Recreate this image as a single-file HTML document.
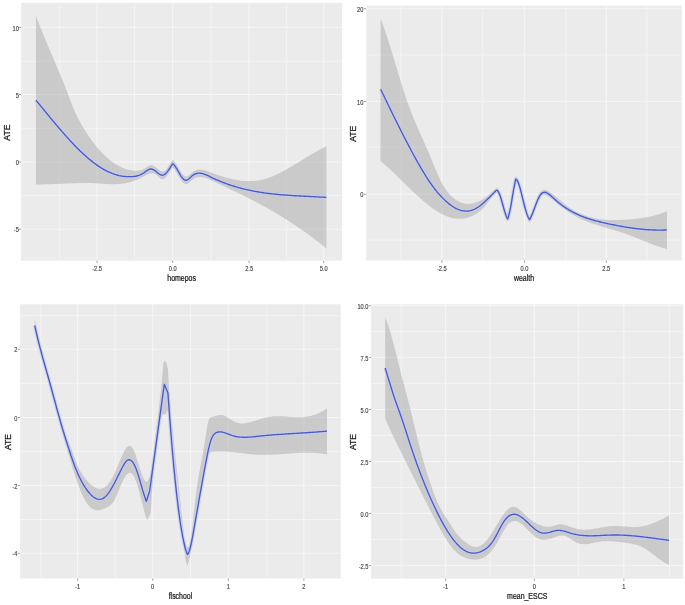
<!DOCTYPE html>
<html><head><meta charset="utf-8"><title>ATE plots</title>
<style>
html,body{margin:0;padding:0;background:#fff;}
body{width:685px;height:605px;overflow:hidden;}
svg{display:block;filter:blur(0.35px);}
text{font-family:"Liberation Sans",sans-serif;}
</style></head><body>
<svg width="685" height="605" viewBox="0 0 685 605">
<rect x="0" y="0" width="685" height="605" fill="#FFFFFF"/>
<rect x="21.10" y="2.80" width="321.00" height="257.90" fill="#EBEBEB"/>
<line x1="59.70" y1="2.80" x2="59.70" y2="260.70" stroke="#F4F4F4" stroke-width="1.0"/>
<line x1="134.60" y1="2.80" x2="134.60" y2="260.70" stroke="#F4F4F4" stroke-width="1.0"/>
<line x1="211.00" y1="2.80" x2="211.00" y2="260.70" stroke="#F4F4F4" stroke-width="1.0"/>
<line x1="286.70" y1="2.80" x2="286.70" y2="260.70" stroke="#F4F4F4" stroke-width="1.0"/>
<line x1="21.10" y1="61.30" x2="342.10" y2="61.30" stroke="#F4F4F4" stroke-width="1.0"/>
<line x1="21.10" y1="128.70" x2="342.10" y2="128.70" stroke="#F4F4F4" stroke-width="1.0"/>
<line x1="21.10" y1="195.50" x2="342.10" y2="195.50" stroke="#F4F4F4" stroke-width="1.0"/>
<line x1="97.10" y1="2.80" x2="97.10" y2="260.70" stroke="#F7F7F7" stroke-width="1.0"/>
<line x1="172.70" y1="2.80" x2="172.70" y2="260.70" stroke="#F7F7F7" stroke-width="1.0"/>
<line x1="249.10" y1="2.80" x2="249.10" y2="260.70" stroke="#F7F7F7" stroke-width="1.0"/>
<line x1="323.70" y1="2.80" x2="323.70" y2="260.70" stroke="#F7F7F7" stroke-width="1.0"/>
<line x1="21.10" y1="27.40" x2="342.10" y2="27.40" stroke="#F7F7F7" stroke-width="1.0"/>
<line x1="21.10" y1="94.50" x2="342.10" y2="94.50" stroke="#F7F7F7" stroke-width="1.0"/>
<line x1="21.10" y1="162.00" x2="342.10" y2="162.00" stroke="#F7F7F7" stroke-width="1.0"/>
<line x1="21.10" y1="229.30" x2="342.10" y2="229.30" stroke="#F7F7F7" stroke-width="1.0"/>
<path d="M35.90,15.90 L36.35,17.07 L36.79,18.24 L37.24,19.40 L37.69,20.55 L38.14,21.70 L38.58,22.84 L39.03,23.98 L39.48,25.11 L39.92,26.23 L40.37,27.35 L40.82,28.46 L41.27,29.57 L41.71,30.68 L42.16,31.77 L42.61,32.87 L43.06,33.96 L43.50,35.05 L43.95,36.13 L44.40,37.21 L44.84,38.28 L45.29,39.36 L45.74,40.43 L46.19,41.49 L46.63,42.56 L47.08,43.62 L47.53,44.68 L47.98,45.74 L48.42,46.79 L48.87,47.85 L49.32,48.90 L49.76,49.95 L50.21,51.00 L50.66,52.05 L51.11,53.10 L51.55,54.15 L52.00,55.19 L52.45,56.25 L52.91,57.32 L53.36,58.38 L53.81,59.44 L54.26,60.50 L54.72,61.56 L55.17,62.63 L55.62,63.69 L56.08,64.76 L56.53,65.83 L56.98,66.90 L57.43,67.98 L57.89,69.05 L58.34,70.13 L58.79,71.21 L59.24,72.29 L59.70,73.38 L60.15,74.47 L60.60,75.57 L61.06,76.66 L61.51,77.77 L61.96,78.87 L62.41,79.98 L62.87,81.10 L63.32,82.22 L63.77,83.34 L64.22,84.47 L64.68,85.61 L65.13,86.75 L65.58,87.89 L66.04,89.05 L66.49,90.21 L66.94,91.37 L67.39,92.54 L67.85,93.72 L68.30,94.91 L68.74,96.07 L69.18,97.24 L69.62,98.41 L70.07,99.58 L70.51,100.74 L70.95,101.90 L71.39,103.06 L71.83,104.20 L72.27,105.33 L72.72,106.44 L73.16,107.53 L73.60,108.61 L74.08,109.75 L74.56,110.87 L75.05,111.97 L75.53,113.04 L76.01,114.08 L76.49,115.11 L76.97,116.11 L77.45,117.09 L77.94,118.05 L78.42,118.99 L78.90,119.91 L79.49,121.02 L80.08,122.10 L80.67,123.15 L81.26,124.19 L81.84,125.20 L82.43,126.20 L83.02,127.18 L83.61,128.15 L84.20,129.11 L84.86,130.17 L85.53,131.21 L86.19,132.24 L86.85,133.26 L87.51,134.26 L88.17,135.25 L88.84,136.23 L89.50,137.19 L90.16,138.13 L90.82,139.06 L91.48,139.98 L92.14,140.88 L92.80,141.77 L93.46,142.65 L94.12,143.51 L94.78,144.35 L95.44,145.19 L96.10,146.01 L96.83,146.90 L97.57,147.78 L98.30,148.64 L99.03,149.48 L99.77,150.31 L100.50,151.12 L101.23,151.91 L101.97,152.69 L102.70,153.45 L103.51,154.27 L104.32,155.07 L105.13,155.85 L105.94,156.61 L106.76,157.35 L107.57,158.06 L108.38,158.76 L109.19,159.44 L110.00,160.10 L110.95,160.84 L111.89,161.56 L112.84,162.25 L113.78,162.91 L114.73,163.54 L115.67,164.15 L116.62,164.73 L117.56,165.28 L118.51,165.80 L119.45,166.30 L120.40,166.78 L121.47,167.28 L122.53,167.74 L123.60,168.18 L124.67,168.58 L125.73,168.94 L126.80,169.27 L127.87,169.57 L128.93,169.83 L130.00,170.06 L131.17,170.26 L132.33,170.43 L133.50,170.56 L134.67,170.64 L135.83,170.69 L137.00,170.69 L138.16,170.65 L139.32,170.54 L140.48,170.33 L141.64,170.01 L142.80,169.53 L143.78,169.01 L144.76,168.40 L145.73,167.76 L146.71,167.11 L147.69,166.50 L148.67,165.97 L149.64,165.56 L150.62,165.32 L151.60,165.27 L152.66,165.49 L153.72,165.94 L154.78,166.57 L155.84,167.33 L156.90,168.17 L157.77,168.88 L158.63,169.57 L159.50,170.20 L160.37,170.75 L161.23,171.17 L162.10,171.44 L163.07,171.50 L164.03,171.28 L165.00,170.72 L165.59,170.20 L166.18,169.56 L166.76,168.81 L167.35,167.98 L167.94,167.08 L168.52,166.15 L169.11,165.19 L169.70,164.23 L170.45,163.02 L171.20,161.89 L171.95,160.87 L172.70,160.00 L173.37,160.48 L174.03,161.12 L174.70,161.90 L175.37,162.79 L176.03,163.78 L176.70,164.85 L177.29,165.83 L177.88,166.85 L178.46,167.87 L179.05,168.90 L179.64,169.91 L180.22,170.89 L180.81,171.83 L181.40,172.71 L182.27,173.87 L183.13,174.85 L184.00,175.63 L184.87,176.18 L185.73,176.48 L186.60,176.50 L187.48,176.23 L188.37,175.72 L189.25,175.04 L190.13,174.26 L191.02,173.44 L191.90,172.66 L192.81,171.94 L193.73,171.33 L194.64,170.82 L195.56,170.41 L196.47,170.08 L197.39,169.84 L198.30,169.67 L199.37,169.57 L200.43,169.56 L201.50,169.63 L202.57,169.77 L203.63,169.98 L204.70,170.24 L205.64,170.51 L206.59,170.82 L207.53,171.14 L208.47,171.49 L209.41,171.85 L210.36,172.22 L211.30,172.59 L212.43,173.02 L213.55,173.45 L214.68,173.87 L215.81,174.29 L216.93,174.69 L218.06,175.09 L219.19,175.48 L220.31,175.85 L221.44,176.22 L222.57,176.58 L223.69,176.93 L224.82,177.26 L225.95,177.59 L227.07,177.90 L228.20,178.20 L229.36,178.50 L230.52,178.78 L231.68,179.05 L232.84,179.31 L234.01,179.55 L235.17,179.77 L236.33,179.98 L237.49,180.18 L238.65,180.35 L239.81,180.51 L240.97,180.65 L242.13,180.78 L243.29,180.88 L244.46,180.97 L245.62,181.04 L246.78,181.09 L247.94,181.12 L249.10,181.13 L250.27,181.11 L251.44,181.08 L252.61,181.02 L253.78,180.95 L254.95,180.84 L256.12,180.72 L257.28,180.57 L258.45,180.40 L259.62,180.20 L260.79,179.98 L261.96,179.74 L263.13,179.46 L264.30,179.17 L265.37,178.87 L266.43,178.55 L267.50,178.22 L268.57,177.86 L269.63,177.48 L270.70,177.08 L271.77,176.67 L272.83,176.24 L273.90,175.79 L274.97,175.32 L276.03,174.84 L277.10,174.34 L278.17,173.83 L279.23,173.31 L280.30,172.77 L281.37,172.22 L282.43,171.66 L283.50,171.09 L284.57,170.51 L285.63,169.91 L286.70,169.31 L287.67,168.75 L288.65,168.19 L289.62,167.62 L290.59,167.04 L291.57,166.46 L292.54,165.88 L293.52,165.29 L294.49,164.70 L295.46,164.10 L296.44,163.50 L297.41,162.90 L298.38,162.30 L299.36,161.69 L300.33,161.09 L301.31,160.48 L302.28,159.88 L303.25,159.27 L304.23,158.67 L305.20,158.07 L306.21,157.45 L307.22,156.83 L308.23,156.22 L309.24,155.61 L310.25,155.00 L311.26,154.40 L312.27,153.81 L313.28,153.22 L314.29,152.64 L315.30,152.07 L316.30,151.50 L317.31,150.94 L318.32,150.39 L319.33,149.86 L320.34,149.33 L321.35,148.81 L322.36,148.30 L323.37,147.81 L324.38,147.32 L325.39,146.86 L326.40,146.40 L326.40,248.50 L325.48,247.74 L324.56,246.99 L323.63,246.24 L322.71,245.49 L321.79,244.75 L320.87,244.02 L319.95,243.29 L319.03,242.56 L318.10,241.84 L317.18,241.12 L316.26,240.41 L315.34,239.70 L314.42,239.00 L313.50,238.30 L312.57,237.61 L311.65,236.91 L310.73,236.23 L309.81,235.55 L308.89,234.87 L307.97,234.20 L307.04,233.53 L306.12,232.86 L305.20,232.20 L304.23,231.50 L303.25,230.82 L302.28,230.13 L301.31,229.45 L300.33,228.77 L299.36,228.10 L298.38,227.43 L297.41,226.77 L296.44,226.11 L295.46,225.46 L294.49,224.80 L293.52,224.16 L292.54,223.51 L291.57,222.88 L290.59,222.24 L289.62,221.61 L288.65,220.98 L287.67,220.36 L286.70,219.74 L285.65,219.08 L284.59,218.42 L283.54,217.76 L282.49,217.11 L281.44,216.46 L280.38,215.82 L279.33,215.18 L278.28,214.54 L277.23,213.91 L276.17,213.28 L275.12,212.66 L274.07,212.04 L273.02,211.43 L271.96,210.81 L270.91,210.21 L269.86,209.60 L268.81,209.00 L267.75,208.40 L266.70,207.81 L265.66,207.23 L264.63,206.66 L263.59,206.08 L262.56,205.51 L261.52,204.95 L260.49,204.38 L259.45,203.82 L258.42,203.26 L257.38,202.71 L256.35,202.16 L255.31,201.61 L254.28,201.06 L253.24,200.52 L252.21,199.98 L251.17,199.45 L250.14,198.91 L249.10,198.38 L248.06,197.85 L247.01,197.32 L245.97,196.79 L244.92,196.26 L243.88,195.74 L242.83,195.22 L241.78,194.70 L240.74,194.18 L239.69,193.67 L238.65,193.16 L237.60,192.65 L236.56,192.14 L235.51,191.63 L234.47,191.13 L233.42,190.63 L232.38,190.13 L231.33,189.63 L230.29,189.14 L229.24,188.65 L228.20,188.15 L227.14,187.66 L226.09,187.17 L225.03,186.67 L223.97,186.18 L222.92,185.70 L221.86,185.21 L220.81,184.72 L219.75,184.24 L218.69,183.76 L217.64,183.28 L216.58,182.80 L215.53,182.32 L214.47,181.84 L213.41,181.36 L212.36,180.89 L211.30,180.42 L210.36,179.99 L209.41,179.58 L208.47,179.18 L207.53,178.79 L206.59,178.43 L205.64,178.10 L204.70,177.80 L203.63,177.51 L202.57,177.28 L201.50,177.12 L200.43,177.04 L199.37,177.04 L198.30,177.13 L197.39,177.29 L196.47,177.53 L195.56,177.86 L194.64,178.27 L193.73,178.78 L192.81,179.38 L191.90,180.10 L191.02,180.88 L190.13,181.69 L189.25,182.48 L188.37,183.17 L187.48,183.70 L186.60,183.99 L185.73,184.01 L184.87,183.76 L184.00,183.26 L183.13,182.52 L182.27,181.58 L181.40,180.44 L180.81,179.56 L180.22,178.63 L179.64,177.64 L179.05,176.61 L178.46,175.57 L177.88,174.52 L177.29,173.49 L176.70,172.48 L176.03,171.40 L175.37,170.39 L174.70,169.48 L174.03,168.70 L173.37,168.06 L172.70,167.60 L171.95,168.56 L171.20,169.61 L170.45,170.72 L169.70,171.86 L169.11,172.76 L168.52,173.66 L167.94,174.53 L167.35,175.37 L166.76,176.17 L166.18,176.91 L165.59,177.57 L165.00,178.15 L164.03,178.89 L163.07,179.31 L162.10,179.35 L161.23,179.04 L160.37,178.47 L159.50,177.72 L158.63,176.87 L157.77,176.02 L156.90,175.24 L155.84,174.48 L154.78,173.94 L153.72,173.60 L152.66,173.44 L151.60,173.44 L150.62,173.57 L149.64,173.80 L148.67,174.11 L147.69,174.50 L146.71,174.95 L145.73,175.44 L144.76,175.96 L143.78,176.49 L142.80,177.01 L141.83,177.51 L140.87,177.99 L139.90,178.46 L138.93,178.90 L137.97,179.32 L137.00,179.73 L136.00,180.13 L135.00,180.51 L134.00,180.87 L133.00,181.22 L132.00,181.54 L130.83,181.89 L129.67,182.22 L128.50,182.52 L127.33,182.80 L126.17,183.05 L125.00,183.27 L123.83,183.48 L122.67,183.65 L121.50,183.81 L120.33,183.93 L119.17,184.04 L118.00,184.12 L116.83,184.18 L115.67,184.22 L114.50,184.24 L113.33,184.24 L112.17,184.22 L111.00,184.19 L109.83,184.15 L108.67,184.09 L107.50,184.03 L106.33,183.96 L105.17,183.88 L104.00,183.80 L102.83,183.71 L101.67,183.63 L100.50,183.54 L99.33,183.46 L98.17,183.39 L97.00,183.32 L95.81,183.25 L94.61,183.20 L93.42,183.15 L92.23,183.11 L91.03,183.07 L89.84,183.05 L88.65,183.03 L87.45,183.01 L86.26,183.01 L85.06,183.00 L83.87,183.01 L82.68,183.02 L81.48,183.03 L80.29,183.05 L79.10,183.07 L77.90,183.10 L76.71,183.13 L75.52,183.16 L74.32,183.20 L73.13,183.24 L71.94,183.28 L70.74,183.33 L69.55,183.38 L68.35,183.43 L67.16,183.48 L65.97,183.53 L64.77,183.58 L63.58,183.64 L62.39,183.69 L61.19,183.74 L60.00,183.80 L58.85,183.85 L57.70,183.90 L56.56,183.95 L55.41,184.00 L54.26,184.05 L53.11,184.09 L51.97,184.13 L50.82,184.18 L49.67,184.22 L48.52,184.25 L47.38,184.28 L46.23,184.31 L45.08,184.34 L43.93,184.36 L42.79,184.38 L41.64,184.40 L40.49,184.41 L39.34,184.41 L38.20,184.41 L37.05,184.41 L35.90,184.40 Z" fill="#999999" fill-opacity="0.4"/>
<path d="M36.00,100.30 L36.72,101.17 L37.44,102.04 L38.16,102.92 L38.88,103.79 L39.60,104.67 L40.32,105.55 L41.04,106.42 L41.76,107.30 L42.48,108.18 L43.20,109.05 L43.93,109.95 L44.67,110.84 L45.40,111.73 L46.13,112.62 L46.87,113.51 L47.60,114.40 L48.33,115.29 L49.07,116.18 L49.80,117.07 L50.53,117.95 L51.27,118.84 L52.00,119.72 L52.73,120.60 L53.47,121.48 L54.20,122.36 L54.93,123.23 L55.67,124.10 L56.40,124.97 L57.14,125.85 L57.89,126.73 L58.63,127.60 L59.38,128.48 L60.12,129.34 L60.87,130.21 L61.61,131.07 L62.36,131.93 L63.10,132.78 L63.83,133.61 L64.57,134.45 L65.30,135.28 L66.03,136.10 L66.77,136.92 L67.50,137.73 L68.23,138.54 L68.97,139.35 L69.70,140.15 L70.53,141.05 L71.35,141.93 L72.17,142.81 L73.00,143.69 L73.83,144.56 L74.65,145.41 L75.47,146.27 L76.30,147.11 L77.12,147.95 L77.95,148.77 L78.78,149.59 L79.60,150.40 L80.42,151.20 L81.25,152.00 L82.08,152.78 L82.90,153.55 L83.73,154.32 L84.55,155.07 L85.38,155.82 L86.20,156.55 L87.03,157.28 L87.85,157.99 L88.67,158.69 L89.50,159.39 L90.33,160.07 L91.15,160.74 L91.97,161.39 L92.80,162.04 L93.62,162.67 L94.45,163.30 L95.27,163.91 L96.10,164.50 L97.04,165.17 L97.99,165.82 L98.93,166.45 L99.87,167.07 L100.81,167.67 L101.76,168.25 L102.70,168.81 L103.64,169.35 L104.59,169.87 L105.53,170.38 L106.47,170.87 L107.41,171.33 L108.36,171.78 L109.30,172.21 L110.41,172.69 L111.52,173.14 L112.63,173.57 L113.74,173.97 L114.85,174.35 L115.96,174.69 L117.07,175.01 L118.18,175.30 L119.29,175.57 L120.40,175.80 L121.57,176.02 L122.75,176.21 L123.92,176.37 L125.09,176.49 L126.26,176.59 L127.44,176.65 L128.61,176.68 L129.78,176.68 L130.95,176.65 L132.13,176.58 L133.30,176.49 L134.36,176.37 L135.41,176.22 L136.47,176.02 L137.52,175.78 L138.58,175.47 L139.63,175.10 L140.69,174.65 L141.74,174.12 L142.80,173.49 L143.78,172.83 L144.76,172.12 L145.73,171.40 L146.71,170.71 L147.69,170.08 L148.67,169.56 L149.64,169.18 L150.62,168.98 L151.60,169.00 L152.66,169.30 L153.72,169.84 L154.78,170.55 L155.84,171.38 L156.90,172.25 L157.77,172.97 L158.63,173.64 L159.50,174.23 L160.37,174.71 L161.23,175.05 L162.10,175.21 L163.07,175.14 L164.03,174.80 L165.00,174.19 L165.59,173.69 L166.18,173.09 L166.76,172.42 L167.35,171.68 L167.94,170.88 L168.52,170.03 L169.11,169.16 L169.70,168.26 L170.45,167.11 L171.20,165.96 L171.95,164.85 L172.70,163.80 L173.37,164.25 L174.03,164.88 L174.70,165.66 L175.37,166.57 L176.03,167.58 L176.70,168.68 L177.29,169.70 L177.88,170.74 L178.46,171.80 L179.05,172.86 L179.64,173.90 L180.22,174.90 L180.81,175.85 L181.40,176.73 L182.27,177.88 L183.13,178.82 L184.00,179.55 L184.87,180.04 L185.73,180.26 L186.60,180.22 L187.48,179.88 L188.37,179.30 L189.25,178.56 L190.13,177.73 L191.02,176.87 L191.90,176.05 L192.81,175.32 L193.73,174.70 L194.64,174.20 L195.56,173.80 L196.47,173.51 L197.39,173.30 L198.30,173.18 L199.37,173.15 L200.43,173.21 L201.50,173.37 L202.57,173.61 L203.63,173.91 L204.70,174.28 L205.64,174.65 L206.59,175.05 L207.53,175.48 L208.47,175.92 L209.41,176.38 L210.36,176.85 L211.30,177.31 L212.36,177.82 L213.41,178.32 L214.47,178.81 L215.53,179.30 L216.58,179.77 L217.64,180.23 L218.69,180.68 L219.75,181.13 L220.81,181.56 L221.86,181.99 L222.92,182.41 L223.97,182.81 L225.03,183.21 L226.09,183.60 L227.14,183.99 L228.20,184.36 L229.36,184.76 L230.52,185.15 L231.68,185.53 L232.84,185.91 L234.01,186.27 L235.17,186.62 L236.33,186.97 L237.49,187.30 L238.65,187.63 L239.81,187.95 L240.97,188.26 L242.13,188.56 L243.29,188.85 L244.46,189.14 L245.62,189.41 L246.78,189.68 L247.94,189.94 L249.10,190.19 L250.27,190.44 L251.45,190.68 L252.62,190.92 L253.79,191.14 L254.97,191.36 L256.14,191.58 L257.31,191.78 L258.49,191.98 L259.66,192.18 L260.83,192.36 L262.01,192.54 L263.18,192.72 L264.35,192.89 L265.53,193.05 L266.70,193.21 L267.88,193.36 L269.05,193.51 L270.23,193.65 L271.41,193.79 L272.58,193.92 L273.76,194.05 L274.94,194.17 L276.11,194.29 L277.29,194.41 L278.46,194.52 L279.64,194.63 L280.82,194.73 L281.99,194.83 L283.17,194.92 L284.35,195.02 L285.52,195.11 L286.70,195.19 L287.86,195.28 L289.01,195.36 L290.17,195.43 L291.32,195.51 L292.48,195.58 L293.64,195.65 L294.79,195.72 L295.95,195.79 L297.11,195.85 L298.26,195.92 L299.42,195.98 L300.57,196.04 L301.73,196.10 L302.89,196.16 L304.04,196.22 L305.20,196.28 L306.38,196.34 L307.56,196.40 L308.73,196.45 L309.91,196.51 L311.09,196.57 L312.27,196.63 L313.44,196.69 L314.62,196.75 L315.80,196.81 L316.98,196.87 L318.16,196.93 L319.33,196.99 L320.51,197.06 L321.69,197.12 L322.87,197.19 L324.04,197.26 L325.22,197.33 L326.40,197.40" fill="none" stroke="#c3cbf2" stroke-opacity="0.75" stroke-width="3.6" stroke-linejoin="round" stroke-linecap="butt"/>
<path d="M36.00,100.30 L36.72,101.17 L37.44,102.04 L38.16,102.92 L38.88,103.79 L39.60,104.67 L40.32,105.55 L41.04,106.42 L41.76,107.30 L42.48,108.18 L43.20,109.05 L43.93,109.95 L44.67,110.84 L45.40,111.73 L46.13,112.62 L46.87,113.51 L47.60,114.40 L48.33,115.29 L49.07,116.18 L49.80,117.07 L50.53,117.95 L51.27,118.84 L52.00,119.72 L52.73,120.60 L53.47,121.48 L54.20,122.36 L54.93,123.23 L55.67,124.10 L56.40,124.97 L57.14,125.85 L57.89,126.73 L58.63,127.60 L59.38,128.48 L60.12,129.34 L60.87,130.21 L61.61,131.07 L62.36,131.93 L63.10,132.78 L63.83,133.61 L64.57,134.45 L65.30,135.28 L66.03,136.10 L66.77,136.92 L67.50,137.73 L68.23,138.54 L68.97,139.35 L69.70,140.15 L70.53,141.05 L71.35,141.93 L72.17,142.81 L73.00,143.69 L73.83,144.56 L74.65,145.41 L75.47,146.27 L76.30,147.11 L77.12,147.95 L77.95,148.77 L78.78,149.59 L79.60,150.40 L80.42,151.20 L81.25,152.00 L82.08,152.78 L82.90,153.55 L83.73,154.32 L84.55,155.07 L85.38,155.82 L86.20,156.55 L87.03,157.28 L87.85,157.99 L88.67,158.69 L89.50,159.39 L90.33,160.07 L91.15,160.74 L91.97,161.39 L92.80,162.04 L93.62,162.67 L94.45,163.30 L95.27,163.91 L96.10,164.50 L97.04,165.17 L97.99,165.82 L98.93,166.45 L99.87,167.07 L100.81,167.67 L101.76,168.25 L102.70,168.81 L103.64,169.35 L104.59,169.87 L105.53,170.38 L106.47,170.87 L107.41,171.33 L108.36,171.78 L109.30,172.21 L110.41,172.69 L111.52,173.14 L112.63,173.57 L113.74,173.97 L114.85,174.35 L115.96,174.69 L117.07,175.01 L118.18,175.30 L119.29,175.57 L120.40,175.80 L121.57,176.02 L122.75,176.21 L123.92,176.37 L125.09,176.49 L126.26,176.59 L127.44,176.65 L128.61,176.68 L129.78,176.68 L130.95,176.65 L132.13,176.58 L133.30,176.49 L134.36,176.37 L135.41,176.22 L136.47,176.02 L137.52,175.78 L138.58,175.47 L139.63,175.10 L140.69,174.65 L141.74,174.12 L142.80,173.49 L143.78,172.83 L144.76,172.12 L145.73,171.40 L146.71,170.71 L147.69,170.08 L148.67,169.56 L149.64,169.18 L150.62,168.98 L151.60,169.00 L152.66,169.30 L153.72,169.84 L154.78,170.55 L155.84,171.38 L156.90,172.25 L157.77,172.97 L158.63,173.64 L159.50,174.23 L160.37,174.71 L161.23,175.05 L162.10,175.21 L163.07,175.14 L164.03,174.80 L165.00,174.19 L165.59,173.69 L166.18,173.09 L166.76,172.42 L167.35,171.68 L167.94,170.88 L168.52,170.03 L169.11,169.16 L169.70,168.26 L170.45,167.11 L171.20,165.96 L171.95,164.85 L172.70,163.80 L173.37,164.25 L174.03,164.88 L174.70,165.66 L175.37,166.57 L176.03,167.58 L176.70,168.68 L177.29,169.70 L177.88,170.74 L178.46,171.80 L179.05,172.86 L179.64,173.90 L180.22,174.90 L180.81,175.85 L181.40,176.73 L182.27,177.88 L183.13,178.82 L184.00,179.55 L184.87,180.04 L185.73,180.26 L186.60,180.22 L187.48,179.88 L188.37,179.30 L189.25,178.56 L190.13,177.73 L191.02,176.87 L191.90,176.05 L192.81,175.32 L193.73,174.70 L194.64,174.20 L195.56,173.80 L196.47,173.51 L197.39,173.30 L198.30,173.18 L199.37,173.15 L200.43,173.21 L201.50,173.37 L202.57,173.61 L203.63,173.91 L204.70,174.28 L205.64,174.65 L206.59,175.05 L207.53,175.48 L208.47,175.92 L209.41,176.38 L210.36,176.85 L211.30,177.31 L212.36,177.82 L213.41,178.32 L214.47,178.81 L215.53,179.30 L216.58,179.77 L217.64,180.23 L218.69,180.68 L219.75,181.13 L220.81,181.56 L221.86,181.99 L222.92,182.41 L223.97,182.81 L225.03,183.21 L226.09,183.60 L227.14,183.99 L228.20,184.36 L229.36,184.76 L230.52,185.15 L231.68,185.53 L232.84,185.91 L234.01,186.27 L235.17,186.62 L236.33,186.97 L237.49,187.30 L238.65,187.63 L239.81,187.95 L240.97,188.26 L242.13,188.56 L243.29,188.85 L244.46,189.14 L245.62,189.41 L246.78,189.68 L247.94,189.94 L249.10,190.19 L250.27,190.44 L251.45,190.68 L252.62,190.92 L253.79,191.14 L254.97,191.36 L256.14,191.58 L257.31,191.78 L258.49,191.98 L259.66,192.18 L260.83,192.36 L262.01,192.54 L263.18,192.72 L264.35,192.89 L265.53,193.05 L266.70,193.21 L267.88,193.36 L269.05,193.51 L270.23,193.65 L271.41,193.79 L272.58,193.92 L273.76,194.05 L274.94,194.17 L276.11,194.29 L277.29,194.41 L278.46,194.52 L279.64,194.63 L280.82,194.73 L281.99,194.83 L283.17,194.92 L284.35,195.02 L285.52,195.11 L286.70,195.19 L287.86,195.28 L289.01,195.36 L290.17,195.43 L291.32,195.51 L292.48,195.58 L293.64,195.65 L294.79,195.72 L295.95,195.79 L297.11,195.85 L298.26,195.92 L299.42,195.98 L300.57,196.04 L301.73,196.10 L302.89,196.16 L304.04,196.22 L305.20,196.28 L306.38,196.34 L307.56,196.40 L308.73,196.45 L309.91,196.51 L311.09,196.57 L312.27,196.63 L313.44,196.69 L314.62,196.75 L315.80,196.81 L316.98,196.87 L318.16,196.93 L319.33,196.99 L320.51,197.06 L321.69,197.12 L322.87,197.19 L324.04,197.26 L325.22,197.33 L326.40,197.40" fill="none" stroke="#4a5cc4" stroke-width="1.35" stroke-linejoin="round" stroke-linecap="butt"/>
<line x1="97.10" y1="260.70" x2="97.10" y2="262.90" stroke="#777" stroke-width="0.7"/>
<text transform="translate(97.10,270.90) scale(0.780,1)" font-size="7.30" fill="#404040" text-anchor="middle" stroke="#404040" stroke-width="0.15">-2.5</text>
<line x1="172.70" y1="260.70" x2="172.70" y2="262.90" stroke="#777" stroke-width="0.7"/>
<text transform="translate(172.70,270.90) scale(0.780,1)" font-size="7.30" fill="#404040" text-anchor="middle" stroke="#404040" stroke-width="0.15">0.0</text>
<line x1="249.10" y1="260.70" x2="249.10" y2="262.90" stroke="#777" stroke-width="0.7"/>
<text transform="translate(249.10,270.90) scale(0.780,1)" font-size="7.30" fill="#404040" text-anchor="middle" stroke="#404040" stroke-width="0.15">2.5</text>
<line x1="323.70" y1="260.70" x2="323.70" y2="262.90" stroke="#777" stroke-width="0.7"/>
<text transform="translate(323.70,270.90) scale(0.780,1)" font-size="7.30" fill="#404040" text-anchor="middle" stroke="#404040" stroke-width="0.15">5.0</text>
<line x1="18.90" y1="27.40" x2="21.10" y2="27.40" stroke="#777" stroke-width="0.7"/>
<text transform="translate(18.90,30.53) scale(0.780,1)" font-size="7.30" fill="#404040" text-anchor="end" stroke="#404040" stroke-width="0.15">10</text>
<line x1="18.90" y1="94.50" x2="21.10" y2="94.50" stroke="#777" stroke-width="0.7"/>
<text transform="translate(18.90,97.63) scale(0.780,1)" font-size="7.30" fill="#404040" text-anchor="end" stroke="#404040" stroke-width="0.15">5</text>
<line x1="18.90" y1="162.00" x2="21.10" y2="162.00" stroke="#777" stroke-width="0.7"/>
<text transform="translate(18.90,165.13) scale(0.780,1)" font-size="7.30" fill="#404040" text-anchor="end" stroke="#404040" stroke-width="0.15">0</text>
<line x1="18.90" y1="229.30" x2="21.10" y2="229.30" stroke="#777" stroke-width="0.7"/>
<text transform="translate(18.90,232.43) scale(0.780,1)" font-size="7.30" fill="#404040" text-anchor="end" stroke="#404040" stroke-width="0.15">-5</text>
<text transform="translate(181.60,280.80) scale(0.810,1)" font-size="8.60" fill="#1a1a1a" text-anchor="middle" stroke="#1a1a1a" stroke-width="0.25">homepos</text>
<text transform="translate(10.40,132.60) rotate(-90) scale(1,1)" font-size="8.60" fill="#1a1a1a" text-anchor="middle" stroke="#1a1a1a" stroke-width="0.25">ATE</text>
<rect x="366.20" y="5.70" width="315.60" height="254.80" fill="#EBEBEB"/>
<line x1="401.00" y1="5.70" x2="401.00" y2="260.50" stroke="#F4F4F4" stroke-width="1.0"/>
<line x1="482.70" y1="5.70" x2="482.70" y2="260.50" stroke="#F4F4F4" stroke-width="1.0"/>
<line x1="565.80" y1="5.70" x2="565.80" y2="260.50" stroke="#F4F4F4" stroke-width="1.0"/>
<line x1="646.90" y1="5.70" x2="646.90" y2="260.50" stroke="#F4F4F4" stroke-width="1.0"/>
<line x1="366.20" y1="54.90" x2="681.80" y2="54.90" stroke="#F4F4F4" stroke-width="1.0"/>
<line x1="366.20" y1="147.20" x2="681.80" y2="147.20" stroke="#F4F4F4" stroke-width="1.0"/>
<line x1="366.20" y1="240.20" x2="681.80" y2="240.20" stroke="#F4F4F4" stroke-width="1.0"/>
<line x1="441.80" y1="5.70" x2="441.80" y2="260.50" stroke="#F7F7F7" stroke-width="1.0"/>
<line x1="524.40" y1="5.70" x2="524.40" y2="260.50" stroke="#F7F7F7" stroke-width="1.0"/>
<line x1="606.30" y1="5.70" x2="606.30" y2="260.50" stroke="#F7F7F7" stroke-width="1.0"/>
<line x1="366.20" y1="8.70" x2="681.80" y2="8.70" stroke="#F7F7F7" stroke-width="1.0"/>
<line x1="366.20" y1="101.40" x2="681.80" y2="101.40" stroke="#F7F7F7" stroke-width="1.0"/>
<line x1="366.20" y1="194.30" x2="681.80" y2="194.30" stroke="#F7F7F7" stroke-width="1.0"/>
<path d="M380.60,18.30 L380.97,19.26 L381.33,20.23 L381.69,21.21 L382.06,22.21 L382.43,23.21 L382.79,24.23 L383.16,25.25 L383.52,26.29 L383.88,27.34 L384.25,28.39 L384.62,29.46 L384.98,30.53 L385.34,31.62 L385.71,32.71 L386.07,33.81 L386.44,34.92 L386.81,36.03 L387.17,37.16 L387.53,38.29 L387.90,39.43 L388.26,40.56 L388.62,41.69 L388.98,42.84 L389.34,43.98 L389.71,45.14 L390.07,46.30 L390.43,47.46 L390.79,48.63 L391.15,49.80 L391.51,50.97 L391.87,52.15 L392.23,53.34 L392.59,54.52 L392.96,55.71 L393.32,56.90 L393.68,58.09 L394.04,59.28 L394.40,60.48 L394.73,61.56 L395.06,62.65 L395.38,63.74 L395.71,64.83 L396.04,65.91 L396.37,67.00 L396.69,68.09 L397.02,69.17 L397.35,70.26 L397.68,71.35 L398.01,72.43 L398.33,73.51 L398.66,74.59 L398.99,75.67 L399.32,76.75 L399.64,77.83 L399.97,78.90 L400.30,79.97 L400.63,81.05 L400.97,82.14 L401.30,83.21 L401.63,84.29 L401.97,85.36 L402.30,86.43 L402.63,87.49 L402.97,88.54 L403.30,89.59 L403.63,90.63 L403.97,91.67 L404.30,92.70 L404.63,93.72 L404.97,94.74 L405.30,95.75 L405.63,96.75 L405.97,97.74 L406.30,98.72 L406.73,99.98 L407.16,101.22 L407.59,102.44 L408.02,103.65 L408.45,104.85 L408.88,106.04 L409.32,107.21 L409.75,108.36 L410.18,109.51 L410.61,110.64 L411.04,111.76 L411.47,112.86 L411.90,113.96 L412.37,115.15 L412.85,116.33 L413.32,117.49 L413.79,118.65 L414.27,119.79 L414.74,120.92 L415.21,122.04 L415.69,123.16 L416.16,124.26 L416.63,125.36 L417.11,126.45 L417.58,127.53 L418.05,128.60 L418.53,129.67 L419.00,130.74 L419.45,131.76 L419.91,132.78 L420.36,133.79 L420.82,134.80 L421.27,135.81 L421.73,136.82 L422.18,137.83 L422.64,138.84 L423.09,139.85 L423.55,140.86 L424.00,141.88 L424.47,142.92 L424.93,143.97 L425.40,145.02 L425.87,146.07 L426.33,147.13 L426.80,148.20 L427.27,149.27 L427.73,150.35 L428.20,151.43 L428.67,152.53 L429.13,153.63 L429.60,154.74 L430.04,155.81 L430.48,156.88 L430.93,157.95 L431.37,159.03 L431.81,160.12 L432.25,161.21 L432.69,162.29 L433.13,163.38 L433.57,164.47 L434.02,165.56 L434.46,166.64 L434.90,167.71 L435.33,168.76 L435.76,169.79 L436.19,170.82 L436.62,171.84 L437.05,172.85 L437.48,173.84 L437.92,174.82 L438.35,175.79 L438.78,176.74 L439.21,177.68 L439.64,178.60 L440.07,179.49 L440.50,180.37 L441.07,181.51 L441.64,182.60 L442.21,183.66 L442.79,184.68 L443.36,185.67 L443.93,186.63 L444.50,187.55 L445.15,188.55 L445.80,189.52 L446.45,190.44 L447.10,191.33 L447.75,192.17 L448.40,192.98 L449.22,193.95 L450.05,194.87 L450.88,195.73 L451.70,196.54 L452.52,197.29 L453.35,198.00 L454.18,198.66 L455.00,199.28 L455.97,199.95 L456.93,200.56 L457.90,201.11 L458.87,201.61 L459.83,202.05 L460.80,202.44 L461.78,202.79 L462.77,203.08 L463.75,203.32 L464.73,203.51 L465.72,203.65 L466.70,203.74 L467.86,203.79 L469.02,203.77 L470.18,203.69 L471.34,203.55 L472.50,203.35 L473.48,203.13 L474.47,202.87 L475.45,202.57 L476.43,202.23 L477.42,201.85 L478.40,201.43 L479.34,200.99 L480.28,200.52 L481.22,200.01 L482.16,199.47 L483.10,198.90 L483.98,198.33 L484.85,197.74 L485.73,197.12 L486.60,196.48 L487.48,195.81 L488.35,195.11 L489.23,194.39 L490.10,193.65 L490.97,192.88 L491.84,192.09 L492.71,191.27 L493.59,190.44 L494.46,189.58 L495.33,188.70 L496.20,187.80 L496.98,187.71 L497.75,188.28 L498.52,189.43 L499.30,191.07 L499.64,191.94 L499.99,192.87 L500.33,193.87 L500.68,194.93 L501.02,196.03 L501.37,197.18 L501.71,198.36 L502.06,199.57 L502.40,200.79 L502.71,201.91 L503.02,203.04 L503.34,204.16 L503.65,205.27 L503.96,206.37 L504.27,207.45 L504.59,208.51 L504.90,209.53 L505.30,210.79 L505.70,211.97 L506.10,213.07 L506.50,214.08 L506.90,214.98 L507.30,215.75 L507.70,216.40 L508.05,215.29 L508.40,214.09 L508.75,212.79 L509.10,211.41 L509.45,209.96 L509.80,208.43 L510.15,206.84 L510.50,205.20 L510.82,203.55 L511.15,201.73 L511.48,199.79 L511.80,197.78 L512.12,195.73 L512.45,193.71 L512.78,191.75 L513.10,189.90 L513.43,188.13 L513.75,186.40 L514.08,184.69 L514.40,183.01 L514.73,181.36 L515.05,179.74 L515.38,178.15 L515.70,176.60 L516.30,176.79 L516.90,177.38 L517.50,178.33 L518.10,179.61 L518.70,181.17 L518.99,182.01 L519.28,182.90 L519.57,183.84 L519.86,184.83 L520.14,185.85 L520.43,186.91 L520.72,188.00 L521.01,189.12 L521.30,190.27 L521.60,191.47 L521.90,192.69 L522.20,193.92 L522.50,195.16 L522.80,196.40 L523.10,197.63 L523.40,198.86 L523.70,200.07 L524.00,201.27 L524.30,202.44 L524.62,203.67 L524.95,204.88 L525.27,206.05 L525.60,207.17 L525.92,208.26 L526.25,209.31 L526.57,210.31 L526.90,211.26 L527.33,212.46 L527.77,213.57 L528.20,214.58 L528.63,215.49 L529.07,216.30 L529.50,217.00 L530.00,216.22 L530.50,215.34 L531.00,214.35 L531.50,213.28 L532.00,212.13 L532.50,210.93 L533.00,209.66 L533.36,208.73 L533.72,207.78 L534.08,206.81 L534.44,205.84 L534.80,204.86 L535.16,203.88 L535.52,202.90 L535.88,201.93 L536.24,200.97 L536.60,200.03 L537.05,198.88 L537.50,197.76 L537.95,196.70 L538.40,195.69 L538.85,194.74 L539.30,193.86 L539.75,193.06 L540.20,192.35 L541.10,191.20 L542.00,190.40 L542.90,189.89 L543.80,189.66 L544.72,189.65 L545.64,189.84 L546.56,190.19 L547.48,190.66 L548.40,191.20 L549.29,191.77 L550.19,192.38 L551.08,193.01 L551.98,193.67 L552.87,194.35 L553.77,195.05 L554.66,195.77 L555.56,196.51 L556.45,197.26 L557.35,198.01 L558.24,198.77 L559.14,199.54 L560.03,200.30 L560.93,201.07 L561.82,201.82 L562.72,202.57 L563.61,203.31 L564.51,204.03 L565.40,204.74 L566.39,205.50 L567.39,206.23 L568.38,206.95 L569.38,207.64 L570.37,208.30 L571.36,208.94 L572.36,209.56 L573.35,210.16 L574.35,210.74 L575.34,211.29 L576.34,211.83 L577.33,212.34 L578.32,212.83 L579.32,213.31 L580.31,213.76 L581.31,214.19 L582.30,214.61 L583.44,215.06 L584.59,215.49 L585.73,215.90 L586.87,216.28 L588.01,216.64 L589.16,216.98 L590.30,217.30 L591.44,217.60 L592.59,217.87 L593.73,218.13 L594.87,218.37 L596.01,218.59 L597.16,218.79 L598.30,218.98 L599.44,219.15 L600.59,219.30 L601.73,219.44 L602.87,219.56 L604.01,219.66 L605.16,219.76 L606.30,219.84 L607.45,219.90 L608.60,219.96 L609.75,220.00 L610.90,220.03 L612.05,220.05 L613.20,220.06 L614.35,220.06 L615.50,220.05 L616.65,220.03 L617.80,220.01 L618.95,219.97 L620.10,219.93 L621.25,219.88 L622.40,219.83 L623.55,219.77 L624.70,219.71 L625.87,219.64 L627.04,219.57 L628.22,219.49 L629.39,219.41 L630.56,219.32 L631.73,219.23 L632.91,219.12 L634.08,219.01 L635.25,218.90 L636.42,218.77 L637.59,218.64 L638.77,218.49 L639.94,218.34 L641.11,218.18 L642.28,218.00 L643.46,217.82 L644.63,217.63 L645.80,217.42 L646.92,217.21 L648.03,216.99 L649.15,216.76 L650.26,216.52 L651.38,216.27 L652.49,216.00 L653.61,215.72 L654.73,215.43 L655.84,215.12 L656.96,214.80 L658.07,214.46 L659.19,214.11 L660.31,213.74 L661.42,213.36 L662.54,212.96 L663.65,212.55 L664.77,212.11 L665.88,211.67 L667.00,211.20 L667.00,248.90 L665.88,248.63 L664.77,248.34 L663.65,248.04 L662.54,247.73 L661.42,247.40 L660.31,247.05 L659.19,246.70 L658.07,246.34 L656.96,245.96 L655.84,245.57 L654.73,245.18 L653.61,244.77 L652.49,244.36 L651.38,243.94 L650.26,243.51 L649.15,243.08 L648.03,242.64 L646.92,242.20 L645.80,241.75 L644.69,241.31 L643.58,240.86 L642.47,240.40 L641.36,239.95 L640.25,239.49 L639.14,239.04 L638.03,238.59 L636.92,238.14 L635.81,237.69 L634.69,237.24 L633.58,236.79 L632.47,236.35 L631.36,235.92 L630.25,235.49 L629.14,235.07 L628.03,234.65 L626.92,234.24 L625.81,233.84 L624.70,233.45 L623.62,233.07 L622.54,232.71 L621.45,232.35 L620.37,232.00 L619.29,231.66 L618.21,231.32 L617.12,230.99 L616.04,230.66 L614.96,230.34 L613.88,230.02 L612.79,229.70 L611.71,229.39 L610.63,229.08 L609.55,228.76 L608.46,228.45 L607.38,228.14 L606.30,227.83 L605.21,227.51 L604.12,227.20 L603.03,226.88 L601.94,226.55 L600.85,226.23 L599.75,225.90 L598.66,225.56 L597.57,225.22 L596.48,224.87 L595.39,224.51 L594.30,224.15 L593.21,223.78 L592.12,223.40 L591.03,223.01 L589.94,222.61 L588.85,222.20 L587.75,221.78 L586.66,221.35 L585.57,220.91 L584.48,220.45 L583.39,219.98 L582.30,219.49 L581.24,219.01 L580.19,218.51 L579.13,217.99 L578.07,217.46 L577.02,216.92 L575.96,216.36 L574.91,215.78 L573.85,215.18 L572.79,214.56 L571.74,213.93 L570.68,213.27 L569.62,212.60 L568.57,211.90 L567.51,211.18 L566.46,210.44 L565.40,209.68 L564.51,209.02 L563.61,208.34 L562.72,207.65 L561.82,206.95 L560.93,206.24 L560.03,205.53 L559.14,204.81 L558.24,204.09 L557.35,203.37 L556.45,202.66 L555.56,201.94 L554.66,201.24 L553.77,200.54 L552.87,199.85 L551.98,199.17 L551.08,198.51 L550.19,197.87 L549.29,197.24 L548.40,196.64 L547.48,196.05 L546.56,195.53 L545.64,195.12 L544.72,194.87 L543.80,194.82 L542.90,195.01 L542.00,195.47 L541.10,196.25 L540.20,197.40 L539.75,198.11 L539.30,198.92 L538.85,199.81 L538.40,200.78 L537.95,201.81 L537.50,202.90 L537.05,204.04 L536.60,205.21 L536.24,206.17 L535.88,207.15 L535.52,208.14 L535.16,209.14 L534.80,210.14 L534.44,211.13 L534.08,212.12 L533.72,213.10 L533.36,214.06 L533.00,215.00 L532.50,216.27 L532.00,217.48 L531.50,218.61 L531.00,219.66 L530.50,220.62 L530.00,221.47 L529.50,222.20 L529.07,221.50 L528.63,220.69 L528.20,219.78 L527.77,218.77 L527.33,217.66 L526.90,216.46 L526.57,215.51 L526.25,214.51 L525.92,213.46 L525.60,212.37 L525.27,211.25 L524.95,210.08 L524.62,208.87 L524.30,207.64 L524.00,206.47 L523.70,205.27 L523.40,204.06 L523.10,202.83 L522.80,201.60 L522.50,200.36 L522.20,199.12 L521.90,197.89 L521.60,196.67 L521.30,195.47 L521.01,194.32 L520.72,193.20 L520.43,192.11 L520.14,191.05 L519.86,190.03 L519.57,189.04 L519.28,188.10 L518.99,187.21 L518.70,186.37 L518.10,184.81 L517.50,183.53 L516.90,182.58 L516.30,181.99 L515.70,181.80 L515.38,183.35 L515.05,184.94 L514.73,186.56 L514.40,188.21 L514.08,189.89 L513.75,191.60 L513.43,193.33 L513.10,195.10 L512.78,196.95 L512.45,198.91 L512.12,200.93 L511.80,202.98 L511.48,204.99 L511.15,206.93 L510.82,208.75 L510.50,210.40 L510.15,212.04 L509.80,213.63 L509.45,215.16 L509.10,216.61 L508.75,217.99 L508.40,219.29 L508.05,220.49 L507.70,221.60 L507.30,220.95 L506.90,220.18 L506.50,219.28 L506.10,218.27 L505.70,217.17 L505.30,215.99 L504.90,214.73 L504.59,213.71 L504.27,212.65 L503.96,211.57 L503.65,210.47 L503.34,209.36 L503.02,208.24 L502.71,207.11 L502.40,205.99 L502.06,204.77 L501.71,203.56 L501.37,202.38 L501.02,201.23 L500.68,200.13 L500.33,199.07 L499.99,198.07 L499.64,197.14 L499.30,196.27 L498.52,194.63 L497.75,193.48 L496.98,192.91 L496.20,193.00 L495.33,193.45 L494.46,194.08 L493.59,194.86 L492.71,195.78 L491.84,196.82 L490.97,197.94 L490.10,199.12 L489.46,200.02 L488.83,200.93 L488.19,201.85 L487.55,202.76 L486.91,203.67 L486.27,204.54 L485.64,205.39 L485.00,206.20 L484.40,206.93 L483.80,207.61 L483.20,208.25 L482.60,208.86 L482.00,209.43 L481.10,210.24 L480.20,210.99 L479.30,211.69 L478.40,212.35 L477.42,213.02 L476.43,213.66 L475.45,214.26 L474.47,214.82 L473.48,215.34 L472.50,215.82 L471.53,216.26 L470.57,216.66 L469.60,217.03 L468.63,217.36 L467.67,217.66 L466.70,217.92 L465.52,218.19 L464.34,218.41 L463.16,218.59 L461.98,218.71 L460.80,218.79 L459.64,218.82 L458.48,218.80 L457.32,218.74 L456.16,218.64 L455.00,218.49 L454.02,218.33 L453.04,218.14 L452.06,217.93 L451.08,217.68 L450.10,217.41 L449.12,217.10 L448.13,216.77 L447.15,216.41 L446.17,216.02 L445.18,215.61 L444.20,215.17 L443.23,214.72 L442.27,214.24 L441.30,213.74 L440.33,213.22 L439.37,212.67 L438.40,212.11 L437.42,211.51 L436.43,210.89 L435.45,210.25 L434.47,209.60 L433.48,208.92 L432.50,208.23 L431.67,207.63 L430.84,207.01 L430.01,206.39 L429.19,205.76 L428.36,205.11 L427.53,204.45 L426.70,203.79 L425.86,203.10 L425.01,202.40 L424.17,201.69 L423.33,200.97 L422.49,200.24 L421.64,199.51 L420.80,198.76 L419.97,198.03 L419.14,197.28 L418.31,196.53 L417.49,195.77 L416.66,195.00 L415.83,194.23 L415.00,193.46 L414.22,192.72 L413.44,191.98 L412.67,191.24 L411.89,190.50 L411.11,189.75 L410.33,189.00 L409.56,188.25 L408.78,187.49 L408.00,186.73 L407.20,185.95 L406.40,185.17 L405.60,184.38 L404.80,183.60 L404.00,182.81 L403.20,182.03 L402.40,181.24 L401.60,180.46 L400.80,179.67 L400.00,178.89 L399.17,178.07 L398.33,177.26 L397.50,176.45 L396.67,175.64 L395.83,174.84 L395.00,174.03 L394.17,173.24 L393.33,172.44 L392.50,171.65 L391.67,170.87 L390.83,170.09 L390.00,169.32 L389.14,168.52 L388.27,167.73 L387.41,166.95 L386.55,166.17 L385.68,165.41 L384.82,164.65 L383.95,163.90 L383.09,163.16 L382.23,162.43 L381.36,161.71 L380.50,161.00 Z" fill="#999999" fill-opacity="0.4"/>
<path d="M380.70,89.30 L381.18,90.30 L381.66,91.31 L382.14,92.31 L382.62,93.31 L383.10,94.31 L383.58,95.31 L384.06,96.31 L384.54,97.30 L385.02,98.30 L385.50,99.30 L386.00,100.33 L386.50,101.37 L387.00,102.40 L387.50,103.44 L388.00,104.47 L388.50,105.50 L389.00,106.53 L389.50,107.56 L390.00,108.58 L390.50,109.61 L391.00,110.63 L391.50,111.66 L392.00,112.68 L392.50,113.70 L393.00,114.72 L393.50,115.73 L394.00,116.75 L394.50,117.76 L395.00,118.77 L395.52,119.82 L396.04,120.87 L396.56,121.91 L397.07,122.96 L397.59,124.00 L398.11,125.03 L398.63,126.07 L399.15,127.10 L399.67,128.14 L400.19,129.17 L400.71,130.19 L401.23,131.22 L401.74,132.24 L402.26,133.26 L402.78,134.28 L403.30,135.30 L403.85,136.36 L404.39,137.43 L404.94,138.49 L405.49,139.55 L406.03,140.61 L406.58,141.66 L407.13,142.71 L407.67,143.76 L408.22,144.80 L408.77,145.84 L409.31,146.88 L409.86,147.91 L410.41,148.94 L410.95,149.97 L411.50,151.00 L412.04,152.00 L412.57,152.99 L413.11,153.99 L413.64,154.98 L414.18,155.96 L414.71,156.94 L415.25,157.92 L415.79,158.89 L416.32,159.86 L416.86,160.82 L417.39,161.78 L417.93,162.73 L418.46,163.68 L419.00,164.62 L419.58,165.64 L420.17,166.65 L420.75,167.66 L421.34,168.65 L421.92,169.64 L422.51,170.63 L423.09,171.60 L423.68,172.56 L424.26,173.52 L424.85,174.47 L425.43,175.41 L426.02,176.34 L426.60,177.25 L427.26,178.28 L427.92,179.29 L428.58,180.29 L429.24,181.28 L429.90,182.25 L430.56,183.21 L431.22,184.15 L431.88,185.08 L432.54,185.99 L433.20,186.89 L433.93,187.87 L434.67,188.82 L435.40,189.76 L436.13,190.68 L436.87,191.58 L437.60,192.46 L438.33,193.33 L439.07,194.17 L439.80,195.00 L440.54,195.81 L441.29,196.61 L442.03,197.39 L442.77,198.15 L443.51,198.89 L444.26,199.62 L445.00,200.32 L445.94,201.20 L446.89,202.04 L447.83,202.85 L448.77,203.62 L449.71,204.37 L450.66,205.08 L451.60,205.76 L452.54,206.40 L453.49,207.00 L454.43,207.57 L455.37,208.09 L456.31,208.58 L457.26,209.03 L458.20,209.44 L459.30,209.86 L460.40,210.22 L461.50,210.52 L462.60,210.75 L463.70,210.93 L464.80,211.04 L465.90,211.08 L467.00,211.05 L468.10,210.96 L469.20,210.80 L470.30,210.57 L471.40,210.28 L472.32,209.99 L473.24,209.65 L474.16,209.26 L475.08,208.83 L476.00,208.35 L476.85,207.87 L477.70,207.35 L478.55,206.79 L479.40,206.20 L480.25,205.58 L481.10,204.93 L481.94,204.26 L482.78,203.56 L483.62,202.84 L484.46,202.10 L485.30,201.34 L486.10,200.59 L486.90,199.84 L487.70,199.06 L488.50,198.28 L489.30,197.48 L490.10,196.68 L490.97,195.79 L491.84,194.90 L492.71,194.00 L493.59,193.10 L494.46,192.20 L495.33,191.29 L496.20,190.40 L496.98,190.31 L497.75,190.88 L498.52,192.03 L499.30,193.67 L499.64,194.54 L499.99,195.47 L500.33,196.47 L500.68,197.53 L501.02,198.63 L501.37,199.78 L501.71,200.96 L502.06,202.17 L502.40,203.39 L502.71,204.51 L503.02,205.64 L503.34,206.76 L503.65,207.87 L503.96,208.97 L504.27,210.05 L504.59,211.11 L504.90,212.13 L505.30,213.39 L505.70,214.57 L506.10,215.67 L506.50,216.68 L506.90,217.58 L507.30,218.35 L507.70,219.00 L508.05,217.89 L508.40,216.69 L508.75,215.39 L509.10,214.01 L509.45,212.56 L509.80,211.03 L510.15,209.44 L510.50,207.80 L510.82,206.15 L511.15,204.33 L511.48,202.39 L511.80,200.38 L512.12,198.33 L512.45,196.31 L512.78,194.35 L513.10,192.50 L513.43,190.73 L513.75,189.00 L514.08,187.29 L514.40,185.61 L514.73,183.96 L515.05,182.34 L515.38,180.75 L515.70,179.20 L516.30,179.39 L516.90,179.98 L517.50,180.93 L518.10,182.21 L518.70,183.77 L518.99,184.61 L519.28,185.50 L519.57,186.44 L519.86,187.43 L520.14,188.45 L520.43,189.51 L520.72,190.60 L521.01,191.72 L521.30,192.87 L521.60,194.07 L521.90,195.29 L522.20,196.52 L522.50,197.76 L522.80,199.00 L523.10,200.23 L523.40,201.46 L523.70,202.67 L524.00,203.87 L524.30,205.04 L524.62,206.27 L524.95,207.48 L525.27,208.65 L525.60,209.77 L525.92,210.86 L526.25,211.91 L526.57,212.91 L526.90,213.86 L527.33,215.06 L527.77,216.17 L528.20,217.18 L528.63,218.09 L529.07,218.90 L529.50,219.60 L530.00,218.78 L530.50,217.86 L531.00,216.85 L531.50,215.76 L532.00,214.61 L532.50,213.40 L533.00,212.14 L533.36,211.21 L533.72,210.27 L534.08,209.32 L534.44,208.36 L534.80,207.39 L535.16,206.43 L535.52,205.47 L535.88,204.52 L536.24,203.58 L536.60,202.65 L537.05,201.53 L537.50,200.44 L537.95,199.39 L538.40,198.40 L538.85,197.46 L539.30,196.60 L539.75,195.81 L540.20,195.10 L541.10,193.94 L542.00,193.11 L542.90,192.57 L543.80,192.30 L544.72,192.26 L545.64,192.43 L546.56,192.77 L547.48,193.26 L548.40,193.85 L549.23,194.45 L550.05,195.11 L550.88,195.80 L551.70,196.52 L552.52,197.26 L553.35,198.02 L554.17,198.78 L555.00,199.53 L555.95,200.37 L556.89,201.19 L557.84,201.99 L558.78,202.77 L559.73,203.53 L560.67,204.26 L561.62,204.98 L562.56,205.68 L563.51,206.36 L564.45,207.02 L565.40,207.66 L566.46,208.36 L567.51,209.03 L568.57,209.69 L569.62,210.32 L570.68,210.93 L571.74,211.53 L572.79,212.10 L573.85,212.65 L574.91,213.19 L575.96,213.71 L577.02,214.21 L578.07,214.69 L579.13,215.16 L580.19,215.62 L581.24,216.05 L582.30,216.48 L583.44,216.92 L584.59,217.35 L585.73,217.76 L586.87,218.15 L588.01,218.54 L589.16,218.91 L590.30,219.26 L591.44,219.61 L592.59,219.94 L593.73,220.27 L594.87,220.58 L596.01,220.89 L597.16,221.18 L598.30,221.47 L599.44,221.75 L600.59,222.03 L601.73,222.29 L602.87,222.56 L604.01,222.81 L605.16,223.07 L606.30,223.32 L607.43,223.57 L608.56,223.81 L609.69,224.05 L610.82,224.29 L611.95,224.52 L613.08,224.75 L614.21,224.98 L615.34,225.20 L616.47,225.42 L617.60,225.64 L618.73,225.85 L619.86,226.06 L620.99,226.27 L622.12,226.47 L623.25,226.67 L624.38,226.86 L625.51,227.05 L626.64,227.23 L627.77,227.41 L628.90,227.58 L630.03,227.75 L631.15,227.92 L632.28,228.08 L633.41,228.23 L634.53,228.38 L635.66,228.52 L636.79,228.66 L637.91,228.79 L639.04,228.92 L640.17,229.04 L641.29,229.15 L642.42,229.26 L643.55,229.37 L644.67,229.46 L645.80,229.55 L646.98,229.64 L648.16,229.72 L649.33,229.79 L650.51,229.85 L651.69,229.91 L652.87,229.96 L654.04,230.00 L655.22,230.04 L656.40,230.06 L657.58,230.08 L658.76,230.09 L659.93,230.09 L661.11,230.08 L662.29,230.06 L663.47,230.03 L664.64,230.00 L665.82,229.95 L667.00,229.90" fill="none" stroke="#c3cbf2" stroke-opacity="0.75" stroke-width="3.6" stroke-linejoin="round" stroke-linecap="butt"/>
<path d="M380.70,89.30 L381.18,90.30 L381.66,91.31 L382.14,92.31 L382.62,93.31 L383.10,94.31 L383.58,95.31 L384.06,96.31 L384.54,97.30 L385.02,98.30 L385.50,99.30 L386.00,100.33 L386.50,101.37 L387.00,102.40 L387.50,103.44 L388.00,104.47 L388.50,105.50 L389.00,106.53 L389.50,107.56 L390.00,108.58 L390.50,109.61 L391.00,110.63 L391.50,111.66 L392.00,112.68 L392.50,113.70 L393.00,114.72 L393.50,115.73 L394.00,116.75 L394.50,117.76 L395.00,118.77 L395.52,119.82 L396.04,120.87 L396.56,121.91 L397.07,122.96 L397.59,124.00 L398.11,125.03 L398.63,126.07 L399.15,127.10 L399.67,128.14 L400.19,129.17 L400.71,130.19 L401.23,131.22 L401.74,132.24 L402.26,133.26 L402.78,134.28 L403.30,135.30 L403.85,136.36 L404.39,137.43 L404.94,138.49 L405.49,139.55 L406.03,140.61 L406.58,141.66 L407.13,142.71 L407.67,143.76 L408.22,144.80 L408.77,145.84 L409.31,146.88 L409.86,147.91 L410.41,148.94 L410.95,149.97 L411.50,151.00 L412.04,152.00 L412.57,152.99 L413.11,153.99 L413.64,154.98 L414.18,155.96 L414.71,156.94 L415.25,157.92 L415.79,158.89 L416.32,159.86 L416.86,160.82 L417.39,161.78 L417.93,162.73 L418.46,163.68 L419.00,164.62 L419.58,165.64 L420.17,166.65 L420.75,167.66 L421.34,168.65 L421.92,169.64 L422.51,170.63 L423.09,171.60 L423.68,172.56 L424.26,173.52 L424.85,174.47 L425.43,175.41 L426.02,176.34 L426.60,177.25 L427.26,178.28 L427.92,179.29 L428.58,180.29 L429.24,181.28 L429.90,182.25 L430.56,183.21 L431.22,184.15 L431.88,185.08 L432.54,185.99 L433.20,186.89 L433.93,187.87 L434.67,188.82 L435.40,189.76 L436.13,190.68 L436.87,191.58 L437.60,192.46 L438.33,193.33 L439.07,194.17 L439.80,195.00 L440.54,195.81 L441.29,196.61 L442.03,197.39 L442.77,198.15 L443.51,198.89 L444.26,199.62 L445.00,200.32 L445.94,201.20 L446.89,202.04 L447.83,202.85 L448.77,203.62 L449.71,204.37 L450.66,205.08 L451.60,205.76 L452.54,206.40 L453.49,207.00 L454.43,207.57 L455.37,208.09 L456.31,208.58 L457.26,209.03 L458.20,209.44 L459.30,209.86 L460.40,210.22 L461.50,210.52 L462.60,210.75 L463.70,210.93 L464.80,211.04 L465.90,211.08 L467.00,211.05 L468.10,210.96 L469.20,210.80 L470.30,210.57 L471.40,210.28 L472.32,209.99 L473.24,209.65 L474.16,209.26 L475.08,208.83 L476.00,208.35 L476.85,207.87 L477.70,207.35 L478.55,206.79 L479.40,206.20 L480.25,205.58 L481.10,204.93 L481.94,204.26 L482.78,203.56 L483.62,202.84 L484.46,202.10 L485.30,201.34 L486.10,200.59 L486.90,199.84 L487.70,199.06 L488.50,198.28 L489.30,197.48 L490.10,196.68 L490.97,195.79 L491.84,194.90 L492.71,194.00 L493.59,193.10 L494.46,192.20 L495.33,191.29 L496.20,190.40 L496.98,190.31 L497.75,190.88 L498.52,192.03 L499.30,193.67 L499.64,194.54 L499.99,195.47 L500.33,196.47 L500.68,197.53 L501.02,198.63 L501.37,199.78 L501.71,200.96 L502.06,202.17 L502.40,203.39 L502.71,204.51 L503.02,205.64 L503.34,206.76 L503.65,207.87 L503.96,208.97 L504.27,210.05 L504.59,211.11 L504.90,212.13 L505.30,213.39 L505.70,214.57 L506.10,215.67 L506.50,216.68 L506.90,217.58 L507.30,218.35 L507.70,219.00 L508.05,217.89 L508.40,216.69 L508.75,215.39 L509.10,214.01 L509.45,212.56 L509.80,211.03 L510.15,209.44 L510.50,207.80 L510.82,206.15 L511.15,204.33 L511.48,202.39 L511.80,200.38 L512.12,198.33 L512.45,196.31 L512.78,194.35 L513.10,192.50 L513.43,190.73 L513.75,189.00 L514.08,187.29 L514.40,185.61 L514.73,183.96 L515.05,182.34 L515.38,180.75 L515.70,179.20 L516.30,179.39 L516.90,179.98 L517.50,180.93 L518.10,182.21 L518.70,183.77 L518.99,184.61 L519.28,185.50 L519.57,186.44 L519.86,187.43 L520.14,188.45 L520.43,189.51 L520.72,190.60 L521.01,191.72 L521.30,192.87 L521.60,194.07 L521.90,195.29 L522.20,196.52 L522.50,197.76 L522.80,199.00 L523.10,200.23 L523.40,201.46 L523.70,202.67 L524.00,203.87 L524.30,205.04 L524.62,206.27 L524.95,207.48 L525.27,208.65 L525.60,209.77 L525.92,210.86 L526.25,211.91 L526.57,212.91 L526.90,213.86 L527.33,215.06 L527.77,216.17 L528.20,217.18 L528.63,218.09 L529.07,218.90 L529.50,219.60 L530.00,218.78 L530.50,217.86 L531.00,216.85 L531.50,215.76 L532.00,214.61 L532.50,213.40 L533.00,212.14 L533.36,211.21 L533.72,210.27 L534.08,209.32 L534.44,208.36 L534.80,207.39 L535.16,206.43 L535.52,205.47 L535.88,204.52 L536.24,203.58 L536.60,202.65 L537.05,201.53 L537.50,200.44 L537.95,199.39 L538.40,198.40 L538.85,197.46 L539.30,196.60 L539.75,195.81 L540.20,195.10 L541.10,193.94 L542.00,193.11 L542.90,192.57 L543.80,192.30 L544.72,192.26 L545.64,192.43 L546.56,192.77 L547.48,193.26 L548.40,193.85 L549.23,194.45 L550.05,195.11 L550.88,195.80 L551.70,196.52 L552.52,197.26 L553.35,198.02 L554.17,198.78 L555.00,199.53 L555.95,200.37 L556.89,201.19 L557.84,201.99 L558.78,202.77 L559.73,203.53 L560.67,204.26 L561.62,204.98 L562.56,205.68 L563.51,206.36 L564.45,207.02 L565.40,207.66 L566.46,208.36 L567.51,209.03 L568.57,209.69 L569.62,210.32 L570.68,210.93 L571.74,211.53 L572.79,212.10 L573.85,212.65 L574.91,213.19 L575.96,213.71 L577.02,214.21 L578.07,214.69 L579.13,215.16 L580.19,215.62 L581.24,216.05 L582.30,216.48 L583.44,216.92 L584.59,217.35 L585.73,217.76 L586.87,218.15 L588.01,218.54 L589.16,218.91 L590.30,219.26 L591.44,219.61 L592.59,219.94 L593.73,220.27 L594.87,220.58 L596.01,220.89 L597.16,221.18 L598.30,221.47 L599.44,221.75 L600.59,222.03 L601.73,222.29 L602.87,222.56 L604.01,222.81 L605.16,223.07 L606.30,223.32 L607.43,223.57 L608.56,223.81 L609.69,224.05 L610.82,224.29 L611.95,224.52 L613.08,224.75 L614.21,224.98 L615.34,225.20 L616.47,225.42 L617.60,225.64 L618.73,225.85 L619.86,226.06 L620.99,226.27 L622.12,226.47 L623.25,226.67 L624.38,226.86 L625.51,227.05 L626.64,227.23 L627.77,227.41 L628.90,227.58 L630.03,227.75 L631.15,227.92 L632.28,228.08 L633.41,228.23 L634.53,228.38 L635.66,228.52 L636.79,228.66 L637.91,228.79 L639.04,228.92 L640.17,229.04 L641.29,229.15 L642.42,229.26 L643.55,229.37 L644.67,229.46 L645.80,229.55 L646.98,229.64 L648.16,229.72 L649.33,229.79 L650.51,229.85 L651.69,229.91 L652.87,229.96 L654.04,230.00 L655.22,230.04 L656.40,230.06 L657.58,230.08 L658.76,230.09 L659.93,230.09 L661.11,230.08 L662.29,230.06 L663.47,230.03 L664.64,230.00 L665.82,229.95 L667.00,229.90" fill="none" stroke="#4a5cc4" stroke-width="1.35" stroke-linejoin="round" stroke-linecap="butt"/>
<line x1="441.80" y1="260.50" x2="441.80" y2="262.70" stroke="#777" stroke-width="0.7"/>
<text transform="translate(441.80,270.90) scale(0.780,1)" font-size="7.30" fill="#404040" text-anchor="middle" stroke="#404040" stroke-width="0.15">-2.5</text>
<line x1="524.40" y1="260.50" x2="524.40" y2="262.70" stroke="#777" stroke-width="0.7"/>
<text transform="translate(524.40,270.90) scale(0.780,1)" font-size="7.30" fill="#404040" text-anchor="middle" stroke="#404040" stroke-width="0.15">0.0</text>
<line x1="606.30" y1="260.50" x2="606.30" y2="262.70" stroke="#777" stroke-width="0.7"/>
<text transform="translate(606.30,270.90) scale(0.780,1)" font-size="7.30" fill="#404040" text-anchor="middle" stroke="#404040" stroke-width="0.15">2.5</text>
<line x1="364.00" y1="8.70" x2="366.20" y2="8.70" stroke="#777" stroke-width="0.7"/>
<text transform="translate(363.30,11.83) scale(0.780,1)" font-size="7.30" fill="#404040" text-anchor="end" stroke="#404040" stroke-width="0.15">20</text>
<line x1="364.00" y1="101.40" x2="366.20" y2="101.40" stroke="#777" stroke-width="0.7"/>
<text transform="translate(363.30,104.53) scale(0.780,1)" font-size="7.30" fill="#404040" text-anchor="end" stroke="#404040" stroke-width="0.15">10</text>
<line x1="364.00" y1="194.30" x2="366.20" y2="194.30" stroke="#777" stroke-width="0.7"/>
<text transform="translate(363.30,197.43) scale(0.780,1)" font-size="7.30" fill="#404040" text-anchor="end" stroke="#404040" stroke-width="0.15">0</text>
<text transform="translate(524.00,280.80) scale(0.810,1)" font-size="8.60" fill="#1a1a1a" text-anchor="middle" stroke="#1a1a1a" stroke-width="0.25">wealth</text>
<text transform="translate(355.70,133.70) rotate(-90) scale(1,1)" font-size="8.60" fill="#1a1a1a" text-anchor="middle" stroke="#1a1a1a" stroke-width="0.25">ATE</text>
<rect x="20.10" y="304.30" width="320.70" height="274.20" fill="#EBEBEB"/>
<line x1="41.00" y1="304.30" x2="41.00" y2="578.50" stroke="#F4F4F4" stroke-width="1.0"/>
<line x1="115.30" y1="304.30" x2="115.30" y2="578.50" stroke="#F4F4F4" stroke-width="1.0"/>
<line x1="190.50" y1="304.30" x2="190.50" y2="578.50" stroke="#F4F4F4" stroke-width="1.0"/>
<line x1="266.90" y1="304.30" x2="266.90" y2="578.50" stroke="#F4F4F4" stroke-width="1.0"/>
<line x1="20.10" y1="315.70" x2="340.80" y2="315.70" stroke="#F4F4F4" stroke-width="1.0"/>
<line x1="20.10" y1="383.40" x2="340.80" y2="383.40" stroke="#F4F4F4" stroke-width="1.0"/>
<line x1="20.10" y1="451.60" x2="340.80" y2="451.60" stroke="#F4F4F4" stroke-width="1.0"/>
<line x1="20.10" y1="519.50" x2="340.80" y2="519.50" stroke="#F4F4F4" stroke-width="1.0"/>
<line x1="77.60" y1="304.30" x2="77.60" y2="578.50" stroke="#F7F7F7" stroke-width="1.0"/>
<line x1="152.70" y1="304.30" x2="152.70" y2="578.50" stroke="#F7F7F7" stroke-width="1.0"/>
<line x1="228.30" y1="304.30" x2="228.30" y2="578.50" stroke="#F7F7F7" stroke-width="1.0"/>
<line x1="303.90" y1="304.30" x2="303.90" y2="578.50" stroke="#F7F7F7" stroke-width="1.0"/>
<line x1="20.10" y1="349.30" x2="340.80" y2="349.30" stroke="#F7F7F7" stroke-width="1.0"/>
<line x1="20.10" y1="417.50" x2="340.80" y2="417.50" stroke="#F7F7F7" stroke-width="1.0"/>
<line x1="20.10" y1="485.60" x2="340.80" y2="485.60" stroke="#F7F7F7" stroke-width="1.0"/>
<line x1="20.10" y1="553.30" x2="340.80" y2="553.30" stroke="#F7F7F7" stroke-width="1.0"/>
<path d="M34.70,318.00 L34.91,319.24 L35.11,320.46 L35.32,321.67 L35.52,322.85 L35.73,324.03 L35.94,325.18 L36.14,326.33 L36.35,327.46 L36.55,328.57 L36.76,329.67 L36.96,330.75 L37.17,331.82 L37.38,332.88 L37.58,333.93 L37.79,334.96 L37.99,335.98 L38.20,336.98 L38.48,338.32 L38.76,339.63 L39.03,340.93 L39.31,342.20 L39.59,343.45 L39.87,344.69 L40.14,345.90 L40.42,347.10 L40.70,348.28 L40.98,349.44 L41.26,350.58 L41.53,351.71 L41.81,352.82 L42.09,353.92 L42.37,355.00 L42.64,356.07 L42.92,357.13 L43.20,358.17 L43.51,359.33 L43.82,360.48 L44.14,361.61 L44.45,362.72 L44.76,363.83 L45.07,364.93 L45.38,366.01 L45.69,367.09 L46.01,368.16 L46.32,369.22 L46.63,370.27 L46.94,371.32 L47.25,372.36 L47.56,373.40 L47.88,374.44 L48.19,375.47 L48.50,376.50 L48.81,377.53 L49.12,378.57 L49.44,379.60 L49.75,380.63 L50.06,381.67 L50.37,382.71 L50.68,383.75 L50.99,384.80 L51.31,385.86 L51.62,386.92 L51.93,387.99 L52.24,389.06 L52.55,390.15 L52.86,391.25 L53.18,392.36 L53.49,393.48 L53.80,394.61 L54.10,395.71 L54.40,396.82 L54.70,397.95 L55.00,399.08 L55.30,400.22 L55.60,401.37 L55.90,402.52 L56.20,403.67 L56.50,404.83 L56.80,405.99 L57.10,407.15 L57.40,408.31 L57.70,409.46 L58.00,410.61 L58.30,411.76 L58.60,412.90 L58.90,414.04 L59.20,415.16 L59.52,416.36 L59.85,417.55 L60.17,418.72 L60.49,419.88 L60.82,421.02 L61.14,422.14 L61.46,423.25 L61.78,424.32 L62.11,425.38 L62.43,426.41 L62.75,427.41 L63.08,428.39 L63.40,429.34 L63.81,430.50 L64.22,431.62 L64.64,432.69 L65.05,433.73 L65.46,434.74 L65.88,435.73 L66.29,436.69 L66.70,437.64 L67.13,438.62 L67.57,439.60 L68.00,440.58 L68.43,441.56 L68.87,442.56 L69.30,443.57 L69.73,444.61 L70.17,445.67 L70.60,446.78 L70.96,447.73 L71.32,448.70 L71.69,449.70 L72.05,450.71 L72.41,451.74 L72.78,452.78 L73.14,453.83 L73.50,454.88 L73.91,456.07 L74.33,457.26 L74.74,458.44 L75.15,459.60 L75.56,460.73 L75.97,461.84 L76.39,462.92 L76.80,463.96 L77.26,465.06 L77.71,466.11 L78.17,467.12 L78.63,468.07 L79.09,468.99 L79.54,469.86 L80.00,470.70 L80.64,471.81 L81.29,472.87 L81.93,473.87 L82.57,474.82 L83.21,475.72 L83.86,476.60 L84.50,477.45 L85.27,478.44 L86.04,479.40 L86.81,480.32 L87.59,481.21 L88.36,482.07 L89.13,482.88 L89.90,483.65 L90.75,484.45 L91.60,485.20 L92.45,485.88 L93.30,486.50 L94.15,487.05 L95.00,487.54 L95.96,488.00 L96.92,488.37 L97.88,488.63 L98.84,488.79 L99.80,488.84 L100.80,488.78 L101.80,488.58 L102.80,488.25 L103.80,487.78 L104.80,487.17 L105.51,486.64 L106.23,486.04 L106.94,485.36 L107.66,484.61 L108.37,483.78 L109.09,482.87 L109.80,481.88 L110.34,481.08 L110.89,480.24 L111.43,479.34 L111.98,478.41 L112.52,477.43 L113.07,476.40 L113.61,475.33 L114.16,474.21 L114.70,473.05 L115.20,471.94 L115.70,470.80 L116.20,469.63 L116.70,468.44 L117.20,467.23 L117.70,466.01 L118.20,464.78 L118.70,463.55 L119.20,462.31 L119.70,461.09 L120.15,460.01 L120.59,458.94 L121.04,457.88 L121.48,456.85 L121.93,455.84 L122.37,454.86 L122.82,453.91 L123.26,452.99 L123.71,452.11 L124.15,451.27 L124.60,450.47 L125.38,449.21 L126.15,448.11 L126.92,447.20 L127.70,446.50 L128.64,445.95 L129.58,445.77 L130.52,446.00 L131.46,446.67 L132.40,447.82 L132.92,448.67 L133.43,449.66 L133.95,450.77 L134.47,452.01 L134.98,453.34 L135.50,454.77 L135.84,455.74 L136.17,456.74 L136.51,457.76 L136.84,458.80 L137.18,459.87 L137.51,460.94 L137.85,462.03 L138.19,463.13 L138.52,464.22 L138.86,465.32 L139.19,466.42 L139.53,467.50 L139.86,468.58 L140.20,469.64 L140.66,471.06 L141.12,472.44 L141.58,473.77 L142.04,475.02 L142.50,476.21 L142.96,477.30 L143.42,478.29 L143.88,479.18 L144.34,479.94 L144.80,480.58 L145.74,481.42 L146.68,481.58 L147.62,480.97 L148.56,479.49 L149.50,477.06 L149.73,476.30 L149.96,475.48 L150.19,474.60 L150.42,473.65 L150.65,472.63 L150.88,471.54 L151.12,470.38 L151.35,469.15 L151.58,467.85 L151.81,466.47 L152.04,465.02 L152.27,463.49 L152.50,461.89 L152.63,460.92 L152.77,459.92 L152.90,458.90 L153.04,457.85 L153.17,456.79 L153.31,455.70 L153.44,454.60 L153.58,453.48 L153.71,452.35 L153.85,451.20 L153.98,450.04 L154.12,448.87 L154.25,447.69 L154.38,446.51 L154.52,445.31 L154.65,444.12 L154.79,442.91 L154.92,441.71 L155.06,440.50 L155.19,439.30 L155.33,438.10 L155.46,436.90 L155.60,435.71 L155.73,434.52 L155.87,433.35 L156.00,432.18 L156.14,430.94 L156.29,429.71 L156.43,428.49 L156.58,427.28 L156.72,426.08 L156.87,424.88 L157.01,423.69 L157.16,422.51 L157.30,421.33 L157.44,420.16 L157.59,418.99 L157.73,417.82 L157.88,416.64 L158.02,415.47 L158.17,414.30 L158.31,413.12 L158.46,411.94 L158.60,410.75 L158.74,409.56 L158.89,408.36 L159.03,407.15 L159.18,405.94 L159.32,404.71 L159.47,403.47 L159.61,402.22 L159.76,400.95 L159.90,399.67 L160.01,398.66 L160.12,397.64 L160.24,396.62 L160.35,395.58 L160.46,394.52 L160.57,393.46 L160.69,392.39 L160.80,391.30 L160.91,390.20 L161.03,389.08 L161.14,387.95 L161.25,386.80 L161.36,385.64 L161.47,384.47 L161.59,383.27 L161.70,382.06 L161.87,380.18 L162.04,378.28 L162.22,376.37 L162.39,374.48 L162.56,372.63 L162.73,370.84 L162.91,369.13 L163.08,367.51 L163.25,366.01 L163.42,364.64 L163.59,363.43 L163.77,362.40 L163.94,361.56 L164.11,360.94 L164.28,360.55 L164.46,360.42 L164.63,360.56 L164.80,361.00 L165.20,361.13 L165.60,361.54 L166.00,362.22 L166.40,363.18 L166.80,364.42 L167.20,365.96 L167.60,367.78 L168.00,369.90 L168.06,371.13 L168.12,372.29 L168.18,373.45 L168.25,374.61 L168.31,375.79 L168.37,376.96 L168.43,378.14 L168.49,379.31 L168.55,380.49 L168.62,381.66 L168.68,382.82 L168.74,383.99 L168.80,385.14 L168.87,386.38 L168.93,387.61 L169.00,388.82 L169.07,390.02 L169.13,391.21 L169.20,392.39 L169.27,393.55 L169.33,394.69 L169.40,395.82 L169.47,396.92 L169.53,398.01 L169.60,399.08 L169.67,400.14 L169.73,401.16 L169.80,402.17 L169.87,403.16 L169.93,404.12 L170.00,405.06 L170.12,406.75 L170.25,408.36 L170.38,409.89 L170.50,411.36 L170.62,412.76 L170.75,414.10 L170.88,415.39 L171.00,416.63 L171.12,417.83 L171.25,419.00 L171.38,420.13 L171.50,421.24 L171.62,422.34 L171.75,423.42 L171.88,424.49 L172.00,425.56 L172.12,426.64 L172.25,427.72 L172.38,428.81 L172.50,429.90 L172.62,430.99 L172.75,432.09 L172.88,433.20 L173.00,434.30 L173.12,435.41 L173.25,436.53 L173.38,437.65 L173.50,438.77 L173.62,439.89 L173.75,441.02 L173.88,442.14 L174.00,443.28 L174.12,444.41 L174.25,445.55 L174.38,446.68 L174.50,447.82 L174.62,448.97 L174.75,450.11 L174.88,451.25 L175.00,452.40 L175.12,453.55 L175.25,454.70 L175.38,455.85 L175.50,457.00 L175.62,458.15 L175.75,459.30 L175.88,460.45 L176.00,461.60 L176.12,462.75 L176.25,463.90 L176.38,465.05 L176.50,466.20 L176.62,467.35 L176.75,468.50 L176.88,469.64 L177.00,470.79 L177.12,471.94 L177.25,473.08 L177.38,474.22 L177.50,475.36 L177.62,476.50 L177.75,477.63 L177.88,478.76 L178.00,479.89 L178.13,481.07 L178.26,482.25 L178.39,483.42 L178.52,484.59 L178.65,485.76 L178.78,486.93 L178.91,488.10 L179.04,489.27 L179.17,490.44 L179.30,491.62 L179.43,492.79 L179.57,493.97 L179.70,495.15 L179.83,496.34 L179.96,497.53 L180.09,498.72 L180.22,499.92 L180.35,501.12 L180.48,502.33 L180.61,503.55 L180.74,504.77 L180.87,506.00 L181.00,507.24 L181.13,508.46 L181.25,509.68 L181.38,510.90 L181.51,512.13 L181.63,513.36 L181.76,514.58 L181.89,515.81 L182.02,517.03 L182.14,518.25 L182.27,519.45 L182.40,520.65 L182.52,521.84 L182.65,523.02 L182.78,524.18 L182.90,525.33 L183.03,526.46 L183.16,527.57 L183.28,528.65 L183.41,529.72 L183.54,530.76 L183.67,531.77 L183.79,532.76 L183.92,533.72 L184.05,534.65 L184.17,535.54 L184.30,536.40 L184.61,538.37 L184.93,540.12 L185.24,541.67 L185.56,543.02 L185.87,544.17 L186.19,545.14 L186.50,545.93 L187.07,546.94 L187.63,547.44 L188.20,547.47 L188.55,547.28 L188.90,546.89 L189.25,546.29 L189.60,545.44 L189.95,544.31 L190.30,542.86 L190.65,541.08 L191.00,538.93 L191.12,538.07 L191.25,537.16 L191.38,536.20 L191.50,535.20 L191.62,534.17 L191.75,533.10 L191.88,531.99 L192.00,530.86 L192.12,529.71 L192.25,528.53 L192.38,527.33 L192.50,526.11 L192.62,524.89 L192.75,523.65 L192.88,522.41 L193.00,521.16 L193.12,519.91 L193.25,518.67 L193.38,517.43 L193.50,516.21 L193.63,514.93 L193.76,513.66 L193.89,512.41 L194.03,511.18 L194.16,509.96 L194.29,508.75 L194.42,507.55 L194.55,506.37 L194.68,505.20 L194.82,504.05 L194.95,502.91 L195.08,501.78 L195.21,500.67 L195.34,499.57 L195.47,498.48 L195.61,497.41 L195.74,496.35 L195.87,495.30 L196.00,494.26 L196.17,492.97 L196.33,491.70 L196.50,490.45 L196.67,489.22 L196.83,488.01 L197.00,486.81 L197.17,485.64 L197.33,484.49 L197.50,483.36 L197.67,482.25 L197.83,481.16 L198.00,480.08 L198.17,479.03 L198.33,477.99 L198.50,476.97 L198.67,475.98 L198.83,475.00 L199.00,474.04 L199.21,472.83 L199.43,471.65 L199.64,470.50 L199.85,469.36 L200.07,468.25 L200.28,467.14 L200.49,466.05 L200.71,464.96 L200.92,463.87 L201.13,462.79 L201.35,461.70 L201.56,460.61 L201.77,459.50 L201.99,458.38 L202.20,457.25 L202.39,456.20 L202.59,455.13 L202.78,454.04 L202.98,452.94 L203.17,451.83 L203.37,450.69 L203.56,449.55 L203.76,448.39 L203.95,447.21 L204.15,446.02 L204.34,444.81 L204.54,443.59 L204.73,442.36 L204.93,441.12 L205.12,439.86 L205.32,438.59 L205.51,437.30 L205.71,436.01 L205.90,434.70 L206.08,433.48 L206.26,432.26 L206.44,431.05 L206.62,429.86 L206.80,428.69 L206.98,427.56 L207.16,426.47 L207.34,425.44 L207.52,424.47 L207.70,423.58 L208.30,421.15 L208.90,419.48 L209.50,418.41 L210.10,417.79 L210.70,417.47 L211.30,417.28 L212.26,416.99 L213.22,416.69 L214.18,416.37 L215.14,416.05 L216.10,415.75 L217.30,415.43 L218.50,415.17 L219.70,415.01 L220.90,414.98 L222.10,415.09 L223.12,415.33 L224.13,415.67 L225.15,416.10 L226.17,416.62 L227.18,417.19 L228.20,417.81 L229.10,418.39 L230.00,418.98 L230.90,419.57 L231.80,420.14 L232.70,420.70 L233.60,421.22 L234.50,421.70 L235.40,422.13 L236.40,422.52 L237.40,422.84 L238.40,423.09 L239.40,423.27 L240.40,423.39 L241.40,423.44 L242.45,423.45 L243.50,423.39 L244.55,423.29 L245.60,423.15 L246.65,422.97 L247.70,422.76 L248.75,422.52 L249.80,422.26 L250.88,421.97 L251.96,421.67 L253.03,421.36 L254.11,421.04 L255.19,420.71 L256.27,420.37 L257.34,420.04 L258.42,419.70 L259.50,419.37 L260.59,419.03 L261.68,418.70 L262.77,418.39 L263.86,418.08 L264.95,417.79 L266.05,417.51 L267.14,417.26 L268.23,417.02 L269.32,416.82 L270.41,416.63 L271.50,416.48 L272.58,416.36 L273.66,416.26 L274.73,416.19 L275.81,416.15 L276.89,416.13 L277.97,416.13 L279.04,416.15 L280.12,416.18 L281.20,416.23 L282.29,416.30 L283.38,416.37 L284.47,416.45 L285.56,416.53 L286.65,416.62 L287.75,416.71 L288.84,416.80 L289.93,416.89 L291.02,416.97 L292.11,417.05 L293.20,417.12 L294.29,417.17 L295.38,417.21 L296.47,417.24 L297.56,417.26 L298.65,417.26 L299.75,417.24 L300.84,417.20 L301.93,417.15 L303.02,417.07 L304.11,416.98 L305.20,416.86 L306.28,416.72 L307.36,416.56 L308.43,416.37 L309.51,416.16 L310.59,415.92 L311.67,415.65 L312.74,415.35 L313.82,415.03 L314.90,414.67 L315.93,414.30 L316.96,413.89 L317.99,413.46 L319.01,413.00 L320.04,412.50 L321.07,411.97 L322.10,411.40 L323.08,410.83 L324.06,410.22 L325.04,409.58 L326.02,408.91 L327.00,408.20 L327.00,454.50 L325.87,454.27 L324.75,454.07 L323.62,453.88 L322.49,453.70 L321.37,453.55 L320.24,453.40 L319.11,453.27 L317.99,453.16 L316.86,453.06 L315.73,452.97 L314.61,452.89 L313.48,452.83 L312.35,452.78 L311.23,452.74 L310.10,452.71 L308.97,452.69 L307.85,452.68 L306.72,452.68 L305.59,452.69 L304.47,452.71 L303.34,452.73 L302.21,452.77 L301.09,452.80 L299.96,452.85 L298.83,452.90 L297.71,452.96 L296.58,453.02 L295.45,453.09 L294.33,453.16 L293.20,453.24 L292.07,453.31 L290.95,453.39 L289.82,453.48 L288.69,453.56 L287.57,453.65 L286.44,453.73 L285.31,453.82 L284.19,453.91 L283.06,453.99 L281.93,454.08 L280.81,454.16 L279.68,454.24 L278.55,454.32 L277.43,454.39 L276.30,454.46 L275.18,454.53 L274.06,454.59 L272.94,454.65 L271.82,454.70 L270.70,454.75 L269.58,454.79 L268.46,454.82 L267.34,454.85 L266.22,454.87 L265.10,454.88 L263.98,454.88 L262.86,454.87 L261.74,454.86 L260.62,454.83 L259.50,454.79 L258.40,454.74 L257.30,454.69 L256.20,454.62 L255.10,454.54 L254.00,454.46 L252.90,454.37 L251.80,454.27 L250.70,454.17 L249.60,454.06 L248.50,453.94 L247.40,453.83 L246.31,453.71 L245.22,453.58 L244.13,453.46 L243.04,453.33 L241.95,453.20 L240.85,453.07 L239.76,452.94 L238.67,452.82 L237.58,452.69 L236.49,452.57 L235.40,452.45 L234.35,452.33 L233.30,452.23 L232.25,452.12 L231.20,452.02 L230.15,451.93 L229.10,451.84 L228.05,451.76 L227.00,451.68 L225.94,451.62 L224.88,451.56 L223.81,451.51 L222.75,451.47 L221.69,451.44 L220.62,451.42 L219.56,451.41 L218.50,451.42 L217.50,451.43 L216.50,451.47 L215.50,451.51 L214.50,451.58 L213.50,451.68 L212.50,451.80 L211.60,451.97 L210.70,452.35 L209.80,453.12 L208.90,454.45 L208.00,456.54 L207.75,457.28 L207.50,458.09 L207.25,458.96 L207.00,459.89 L206.75,460.89 L206.50,461.93 L206.25,463.04 L206.00,464.19 L205.75,465.38 L205.50,466.62 L205.25,467.90 L205.00,469.21 L204.81,470.22 L204.63,471.24 L204.44,472.27 L204.25,473.32 L204.07,474.38 L203.88,475.46 L203.69,476.54 L203.51,477.63 L203.32,478.73 L203.13,479.84 L202.95,480.95 L202.76,482.06 L202.57,483.18 L202.39,484.29 L202.20,485.41 L201.99,486.63 L201.79,487.86 L201.58,489.08 L201.38,490.29 L201.17,491.51 L200.97,492.72 L200.76,493.93 L200.56,495.14 L200.35,496.34 L200.14,497.54 L199.94,498.74 L199.73,499.93 L199.53,501.12 L199.32,502.31 L199.12,503.50 L198.91,504.68 L198.71,505.86 L198.50,507.04 L198.29,508.21 L198.09,509.38 L197.88,510.55 L197.68,511.72 L197.47,512.89 L197.27,514.06 L197.06,515.23 L196.86,516.40 L196.65,517.57 L196.44,518.74 L196.24,519.92 L196.03,521.10 L195.83,522.29 L195.62,523.48 L195.42,524.68 L195.21,525.88 L195.01,527.09 L194.80,528.31 L194.60,529.50 L194.40,530.70 L194.20,531.90 L194.00,533.11 L193.80,534.31 L193.60,535.52 L193.40,536.73 L193.20,537.94 L193.00,539.14 L192.80,540.34 L192.60,541.52 L192.40,542.71 L192.20,543.88 L192.00,545.04 L191.80,546.19 L191.60,547.32 L191.40,548.45 L191.20,549.55 L191.00,550.63 L190.80,551.70 L190.60,552.74 L190.40,553.77 L190.20,554.77 L190.00,555.74 L189.69,557.21 L189.38,558.60 L189.06,559.93 L188.75,561.17 L188.44,562.32 L188.12,563.38 L187.81,564.34 L187.50,565.20 L187.25,565.20 L187.01,564.97 L186.76,564.50 L186.52,563.83 L186.27,562.95 L186.02,561.88 L185.78,560.63 L185.53,559.21 L185.28,557.64 L185.04,555.91 L184.79,554.05 L184.55,552.07 L184.30,549.98 L184.19,548.97 L184.07,547.95 L183.96,546.90 L183.84,545.84 L183.73,544.76 L183.62,543.67 L183.50,542.56 L183.39,541.43 L183.28,540.29 L183.16,539.15 L183.05,537.99 L182.93,536.82 L182.82,535.64 L182.71,534.45 L182.59,533.26 L182.48,532.07 L182.37,530.87 L182.25,529.67 L182.14,528.46 L182.02,527.26 L181.91,526.05 L181.80,524.85 L181.68,523.65 L181.57,522.45 L181.46,521.26 L181.34,520.08 L181.23,518.90 L181.11,517.73 L181.00,516.57 L180.88,515.31 L180.75,514.06 L180.62,512.82 L180.50,511.59 L180.38,510.38 L180.25,509.17 L180.12,507.98 L180.00,506.79 L179.88,505.62 L179.75,504.45 L179.62,503.29 L179.50,502.14 L179.38,501.00 L179.25,499.86 L179.12,498.73 L179.00,497.61 L178.88,496.49 L178.75,495.38 L178.62,494.27 L178.50,493.17 L178.38,492.07 L178.25,490.98 L178.12,489.89 L178.00,488.80 L177.87,487.67 L177.74,486.54 L177.61,485.41 L177.48,484.28 L177.35,483.16 L177.22,482.03 L177.09,480.91 L176.96,479.78 L176.83,478.65 L176.70,477.52 L176.57,476.39 L176.43,475.25 L176.30,474.12 L176.17,472.97 L176.04,471.83 L175.91,470.68 L175.78,469.52 L175.65,468.36 L175.52,467.19 L175.39,466.02 L175.26,464.84 L175.13,463.65 L175.00,462.46 L174.87,461.25 L174.74,460.04 L174.61,458.82 L174.48,457.60 L174.35,456.37 L174.22,455.13 L174.09,453.89 L173.96,452.65 L173.83,451.41 L173.70,450.17 L173.57,448.92 L173.43,447.68 L173.30,446.44 L173.17,445.20 L173.04,443.97 L172.91,442.74 L172.78,441.51 L172.65,440.29 L172.52,439.08 L172.39,437.87 L172.26,436.67 L172.13,435.49 L172.00,434.31 L171.87,433.11 L171.73,431.93 L171.60,430.77 L171.47,429.61 L171.33,428.47 L171.20,427.35 L171.07,426.24 L170.93,425.15 L170.80,424.08 L170.67,423.03 L170.53,422.00 L170.40,420.99 L170.27,420.01 L170.13,419.04 L170.00,418.10 L169.80,416.74 L169.60,415.45 L169.40,414.26 L169.20,413.18 L169.00,412.22 L168.80,411.42 L168.60,410.78 L167.90,409.87 L167.20,410.52 L166.65,411.66 L166.10,413.00 L165.55,414.21 L165.00,414.95 L164.17,414.83 L163.33,414.18 L162.50,414.29 L162.17,414.82 L161.83,415.66 L161.50,416.77 L161.17,418.13 L160.83,419.72 L160.50,421.51 L160.34,422.41 L160.19,423.34 L160.03,424.31 L159.88,425.31 L159.72,426.34 L159.56,427.39 L159.41,428.46 L159.25,429.55 L159.09,430.66 L158.94,431.79 L158.78,432.92 L158.62,434.07 L158.47,435.22 L158.31,436.38 L158.16,437.53 L158.00,438.69 L157.84,439.85 L157.68,441.01 L157.53,442.16 L157.37,443.32 L157.21,444.47 L157.05,445.62 L156.89,446.77 L156.74,447.93 L156.58,449.08 L156.42,450.24 L156.26,451.40 L156.11,452.57 L155.95,453.74 L155.79,454.92 L155.63,456.11 L155.47,457.30 L155.32,458.50 L155.16,459.72 L155.00,460.94 L154.88,461.87 L154.76,462.80 L154.64,463.75 L154.52,464.71 L154.40,465.69 L154.29,466.68 L154.17,467.70 L154.05,468.74 L153.93,469.80 L153.81,470.88 L153.69,472.00 L153.57,473.15 L153.45,474.33 L153.33,475.55 L153.21,476.80 L153.10,478.10 L152.98,479.44 L152.86,480.82 L152.74,482.25 L152.62,483.73 L152.50,485.26 L152.42,486.30 L152.34,487.36 L152.27,488.44 L152.19,489.53 L152.11,490.65 L152.03,491.77 L151.95,492.92 L151.87,494.07 L151.80,495.24 L151.72,496.41 L151.64,497.60 L151.56,498.79 L151.48,499.98 L151.40,501.18 L151.33,502.38 L151.25,503.58 L151.17,504.77 L151.09,505.97 L151.01,507.16 L150.93,508.34 L150.86,509.52 L150.78,510.68 L150.70,512.00 L150.20,513.74 L149.70,515.25 L149.20,516.54 L148.70,517.60 L148.20,518.43 L147.70,519.02 L147.20,519.38 L146.70,519.50 L146.39,518.58 L146.08,517.63 L145.77,516.64 L145.46,515.62 L145.15,514.57 L144.84,513.49 L144.53,512.39 L144.22,511.27 L143.91,510.12 L143.60,508.96 L143.30,507.79 L142.99,506.60 L142.68,505.40 L142.37,504.19 L142.06,502.98 L141.75,501.76 L141.44,500.54 L141.13,499.32 L140.82,498.10 L140.51,496.89 L140.20,495.68 L139.85,494.34 L139.51,493.02 L139.16,491.72 L138.81,490.43 L138.47,489.18 L138.12,487.95 L137.77,486.75 L137.43,485.59 L137.08,484.46 L136.73,483.37 L136.39,482.33 L136.04,481.34 L135.69,480.39 L135.35,479.50 L135.00,478.67 L134.50,477.57 L134.00,476.60 L133.50,475.74 L133.00,475.00 L132.50,474.38 L131.62,473.55 L130.75,473.04 L129.88,472.85 L129.00,472.95 L128.27,473.25 L127.53,473.74 L126.80,474.41 L126.07,475.25 L125.33,476.25 L124.60,477.40 L124.11,478.25 L123.62,479.17 L123.13,480.13 L122.64,481.15 L122.15,482.21 L121.66,483.32 L121.17,484.46 L120.68,485.63 L120.19,486.82 L119.70,488.04 L119.28,489.09 L118.87,490.15 L118.45,491.20 L118.03,492.25 L117.62,493.29 L117.20,494.31 L116.78,495.31 L116.37,496.27 L115.95,497.21 L115.53,498.10 L115.12,498.94 L114.70,499.73 L113.85,501.17 L113.00,502.38 L112.15,503.41 L111.30,504.28 L110.45,505.01 L109.60,505.65 L108.75,506.20 L107.90,506.72 L106.96,507.26 L106.01,507.78 L105.07,508.27 L104.13,508.71 L103.19,509.12 L102.24,509.47 L101.30,509.77 L100.26,510.03 L99.22,510.21 L98.19,510.29 L97.15,510.28 L96.11,510.16 L95.08,509.93 L94.04,509.57 L93.00,509.09 L92.10,508.55 L91.20,507.91 L90.30,507.16 L89.40,506.29 L88.50,505.29 L87.60,504.16 L86.70,502.90 L86.16,502.08 L85.63,501.22 L85.09,500.30 L84.55,499.34 L84.02,498.34 L83.48,497.28 L82.95,496.19 L82.41,495.05 L81.87,493.87 L81.34,492.64 L80.80,491.38 L80.38,490.37 L79.96,489.33 L79.55,488.27 L79.13,487.19 L78.71,486.08 L78.29,484.96 L77.87,483.81 L77.45,482.64 L77.04,481.45 L76.62,480.24 L76.20,479.01 L75.89,478.09 L75.58,477.16 L75.28,476.22 L74.97,475.27 L74.66,474.31 L74.35,473.34 L74.04,472.36 L73.73,471.37 L73.42,470.37 L73.12,469.36 L72.81,468.35 L72.50,467.32 L72.16,466.19 L71.83,465.06 L71.49,463.91 L71.15,462.77 L70.81,461.62 L70.47,460.47 L70.14,459.33 L69.80,458.19 L69.46,457.04 L69.11,455.90 L68.77,454.76 L68.42,453.63 L68.08,452.50 L67.73,451.37 L67.39,450.23 L67.04,449.10 L66.70,447.96 L66.37,446.86 L66.04,445.76 L65.71,444.65 L65.38,443.52 L65.05,442.39 L64.72,441.24 L64.39,440.08 L64.06,438.90 L63.73,437.70 L63.40,436.49 L63.12,435.44 L62.84,434.38 L62.56,433.31 L62.28,432.23 L62.00,431.13 L61.72,430.03 L61.44,428.93 L61.16,427.81 L60.88,426.70 L60.60,425.58 L60.32,424.46 L60.04,423.34 L59.76,422.22 L59.48,421.11 L59.20,420.00 L58.90,418.82 L58.60,417.64 L58.30,416.47 L58.00,415.30 L57.70,414.14 L57.40,412.99 L57.10,411.84 L56.80,410.70 L56.50,409.56 L56.20,408.43 L55.90,407.30 L55.60,406.18 L55.30,405.06 L55.00,403.94 L54.70,402.83 L54.40,401.73 L54.10,400.63 L53.80,399.53 L53.49,398.39 L53.18,397.25 L52.86,396.12 L52.55,394.99 L52.24,393.87 L51.93,392.74 L51.62,391.62 L51.31,390.50 L50.99,389.39 L50.68,388.27 L50.37,387.16 L50.06,386.05 L49.75,384.94 L49.44,383.83 L49.12,382.73 L48.81,381.62 L48.50,380.51 L48.19,379.41 L47.88,378.30 L47.56,377.20 L47.25,376.09 L46.94,374.98 L46.63,373.88 L46.32,372.77 L46.01,371.66 L45.69,370.55 L45.38,369.43 L45.07,368.32 L44.76,367.20 L44.45,366.08 L44.14,364.96 L43.82,363.84 L43.51,362.71 L43.20,361.57 L42.91,360.50 L42.61,359.43 L42.32,358.35 L42.02,357.27 L41.73,356.18 L41.44,355.09 L41.14,354.00 L40.85,352.90 L40.55,351.79 L40.26,350.68 L39.96,349.57 L39.67,348.45 L39.38,347.32 L39.08,346.19 L38.79,345.05 L38.49,343.91 L38.20,342.76 L37.91,341.61 L37.62,340.46 L37.33,339.29 L37.03,338.13 L36.74,336.95 L36.45,335.77 L36.16,334.58 L35.87,333.38 L35.58,332.17 L35.28,330.95 L34.99,329.73 L34.70,328.50 Z" fill="#999999" fill-opacity="0.4"/>
<path d="M34.70,325.50 L34.97,326.73 L35.24,327.94 L35.51,329.14 L35.78,330.33 L36.05,331.51 L36.32,332.67 L36.58,333.83 L36.85,334.97 L37.12,336.10 L37.39,337.22 L37.66,338.33 L37.93,339.43 L38.20,340.51 L38.48,341.63 L38.76,342.73 L39.03,343.83 L39.31,344.92 L39.59,345.99 L39.87,347.06 L40.14,348.12 L40.42,349.18 L40.70,350.22 L40.98,351.26 L41.26,352.30 L41.53,353.32 L41.81,354.35 L42.09,355.36 L42.37,356.37 L42.64,357.38 L42.92,358.38 L43.20,359.38 L43.51,360.50 L43.82,361.61 L44.14,362.72 L44.45,363.82 L44.76,364.92 L45.07,366.03 L45.38,367.12 L45.69,368.22 L46.01,369.32 L46.32,370.42 L46.63,371.52 L46.94,372.62 L47.25,373.72 L47.56,374.82 L47.88,375.92 L48.19,377.03 L48.50,378.14 L48.81,379.26 L49.12,380.38 L49.44,381.50 L49.75,382.63 L50.06,383.76 L50.37,384.89 L50.68,386.02 L50.99,387.16 L51.31,388.30 L51.62,389.44 L51.93,390.59 L52.24,391.73 L52.55,392.87 L52.86,394.02 L53.18,395.17 L53.49,396.32 L53.80,397.46 L54.10,398.57 L54.40,399.67 L54.70,400.77 L55.00,401.88 L55.30,402.98 L55.60,404.08 L55.90,405.18 L56.20,406.28 L56.50,407.37 L56.80,408.47 L57.10,409.56 L57.40,410.65 L57.70,411.74 L58.00,412.82 L58.30,413.90 L58.60,414.98 L58.90,416.05 L59.20,417.13 L59.50,418.19 L59.80,419.26 L60.10,420.31 L60.40,421.37 L60.70,422.42 L61.00,423.46 L61.30,424.50 L61.60,425.53 L61.90,426.56 L62.20,427.59 L62.50,428.60 L62.80,429.61 L63.10,430.62 L63.40,431.61 L63.77,432.82 L64.13,434.02 L64.50,435.21 L64.87,436.39 L65.23,437.57 L65.60,438.74 L65.97,439.90 L66.33,441.05 L66.70,442.20 L67.04,443.27 L67.39,444.34 L67.73,445.41 L68.08,446.47 L68.42,447.53 L68.77,448.59 L69.11,449.65 L69.46,450.71 L69.80,451.76 L70.14,452.80 L70.47,453.83 L70.81,454.86 L71.15,455.88 L71.49,456.90 L71.83,457.91 L72.16,458.91 L72.50,459.89 L72.83,460.83 L73.16,461.77 L73.49,462.68 L73.81,463.59 L74.14,464.48 L74.47,465.36 L74.80,466.23 L75.27,467.45 L75.74,468.64 L76.21,469.81 L76.69,470.95 L77.16,472.07 L77.63,473.16 L78.10,474.22 L78.57,475.27 L79.04,476.29 L79.51,477.28 L79.99,478.25 L80.46,479.20 L80.93,480.12 L81.40,481.02 L82.01,482.15 L82.62,483.25 L83.23,484.31 L83.84,485.33 L84.45,486.31 L85.05,487.27 L85.66,488.18 L86.27,489.07 L86.88,489.92 L87.49,490.74 L88.10,491.53 L88.92,492.55 L89.75,493.50 L90.58,494.40 L91.40,495.23 L92.22,495.99 L93.05,496.68 L93.88,497.30 L94.70,497.84 L95.76,498.42 L96.82,498.86 L97.88,499.16 L98.94,499.31 L100.00,499.30 L101.04,499.14 L102.08,498.82 L103.12,498.34 L104.16,497.68 L105.20,496.84 L105.96,496.12 L106.71,495.31 L107.47,494.41 L108.23,493.43 L108.99,492.38 L109.74,491.25 L110.50,490.07 L111.03,489.20 L111.56,488.31 L112.09,487.39 L112.62,486.45 L113.15,485.49 L113.68,484.50 L114.21,483.51 L114.74,482.49 L115.27,481.46 L115.80,480.42 L116.28,479.47 L116.76,478.51 L117.25,477.54 L117.73,476.57 L118.21,475.60 L118.69,474.63 L119.17,473.65 L119.65,472.68 L120.14,471.71 L120.62,470.75 L121.10,469.79 L121.76,468.49 L122.42,467.22 L123.08,466.00 L123.74,464.84 L124.40,463.76 L125.06,462.77 L125.72,461.89 L126.38,461.14 L127.04,460.54 L127.70,460.09 L128.70,459.74 L129.70,459.78 L130.70,460.21 L131.70,461.00 L132.33,461.69 L132.97,462.52 L133.60,463.50 L134.23,464.64 L134.87,465.92 L135.50,467.36 L135.86,468.25 L136.23,469.19 L136.59,470.18 L136.95,471.21 L137.32,472.27 L137.68,473.37 L138.05,474.50 L138.41,475.66 L138.77,476.85 L139.14,478.05 L139.50,479.28 L139.80,480.29 L140.10,481.32 L140.40,482.36 L140.70,483.39 L141.00,484.43 L141.30,485.47 L141.60,486.51 L141.90,487.55 L142.20,488.58 L142.50,489.60 L142.80,490.62 L143.16,491.82 L143.52,493.00 L143.88,494.16 L144.24,495.30 L144.60,496.41 L144.96,497.48 L145.32,498.52 L145.68,499.53 L146.04,500.49 L146.40,501.40 L146.81,500.06 L147.23,498.72 L147.64,497.39 L148.05,496.05 L148.46,494.71 L148.88,493.38 L149.29,492.04 L149.70,490.70 L151.53,477.40 L153.35,464.10 L155.18,450.80 L157.00,437.50 L158.82,424.20 L160.65,410.90 L162.47,397.60 L164.30,384.30 L164.75,385.38 L165.20,386.45 L165.65,387.52 L166.10,388.60 L166.55,389.68 L167.00,390.75 L167.45,391.82 L167.90,392.90 L170.01,421.82 L172.12,447.90 L174.24,471.16 L176.35,491.65 L178.46,509.39 L180.58,524.42 L182.69,536.78 L184.80,546.50 L185.14,547.79 L185.47,548.99 L185.81,550.10 L186.15,551.13 L186.49,552.08 L186.82,552.95 L187.16,553.76 L187.50,554.50 L187.96,553.96 L188.42,553.15 L188.88,552.09 L189.34,550.80 L189.80,549.30 L190.03,548.48 L190.25,547.62 L190.48,546.71 L190.71,545.77 L190.94,544.78 L191.16,543.76 L191.39,542.70 L191.62,541.62 L191.85,540.50 L192.07,539.35 L192.30,538.18 L192.53,536.98 L192.75,535.77 L192.98,534.53 L193.21,533.28 L193.44,532.01 L193.66,530.73 L193.89,529.44 L194.12,528.14 L194.35,526.83 L194.57,525.52 L194.80,524.21 L195.01,523.03 L195.21,521.84 L195.42,520.66 L195.62,519.48 L195.83,518.30 L196.03,517.11 L196.24,515.93 L196.44,514.75 L196.65,513.57 L196.86,512.40 L197.06,511.22 L197.27,510.04 L197.47,508.87 L197.68,507.69 L197.88,506.52 L198.09,505.35 L198.29,504.18 L198.50,503.01 L198.71,501.84 L198.91,500.67 L199.12,499.50 L199.32,498.34 L199.53,497.17 L199.73,496.01 L199.94,494.85 L200.14,493.69 L200.35,492.53 L200.56,491.38 L200.76,490.22 L200.97,489.07 L201.17,487.92 L201.38,486.77 L201.58,485.62 L201.79,484.48 L201.99,483.33 L202.20,482.19 L202.41,481.00 L202.63,479.81 L202.84,478.62 L203.06,477.44 L203.27,476.25 L203.49,475.07 L203.70,473.90 L203.92,472.73 L204.13,471.56 L204.35,470.40 L204.56,469.24 L204.78,468.09 L205.00,466.94 L205.21,465.79 L205.43,464.65 L205.64,463.52 L205.85,462.39 L206.07,461.27 L206.28,460.16 L206.50,459.05 L206.74,457.82 L206.98,456.61 L207.22,455.40 L207.46,454.21 L207.70,453.04 L207.94,451.90 L208.18,450.77 L208.42,449.67 L208.66,448.59 L208.90,447.55 L209.14,446.54 L209.38,445.57 L209.62,444.63 L209.86,443.73 L210.10,442.87 L210.55,441.39 L211.00,440.05 L211.45,438.85 L211.90,437.78 L212.35,436.84 L212.80,436.01 L213.25,435.28 L213.70,434.66 L214.60,433.68 L215.50,432.99 L216.40,432.53 L217.30,432.23 L218.32,432.01 L219.33,431.91 L220.35,431.91 L221.37,431.99 L222.38,432.16 L223.40,432.39 L224.45,432.68 L225.50,433.02 L226.55,433.40 L227.60,433.80 L228.65,434.21 L229.70,434.62 L230.75,435.01 L231.80,435.38 L232.88,435.72 L233.96,436.03 L235.04,436.29 L236.12,436.52 L237.20,436.72 L238.28,436.88 L239.36,437.02 L240.44,437.12 L241.52,437.20 L242.60,437.26 L243.73,437.29 L244.85,437.30 L245.98,437.28 L247.11,437.25 L248.23,437.20 L249.36,437.13 L250.49,437.05 L251.61,436.95 L252.74,436.85 L253.87,436.74 L254.99,436.62 L256.12,436.50 L257.25,436.37 L258.37,436.25 L259.50,436.13 L260.62,436.01 L261.74,435.89 L262.86,435.78 L263.98,435.67 L265.10,435.56 L266.22,435.45 L267.34,435.35 L268.46,435.25 L269.58,435.15 L270.70,435.06 L271.82,434.97 L272.94,434.88 L274.06,434.79 L275.18,434.70 L276.30,434.62 L277.43,434.54 L278.55,434.46 L279.68,434.38 L280.81,434.30 L281.93,434.22 L283.06,434.15 L284.19,434.07 L285.31,434.00 L286.44,433.93 L287.57,433.86 L288.69,433.79 L289.82,433.72 L290.95,433.65 L292.07,433.58 L293.20,433.51 L294.33,433.44 L295.45,433.38 L296.58,433.31 L297.71,433.24 L298.83,433.17 L299.96,433.10 L301.09,433.03 L302.21,432.96 L303.34,432.89 L304.47,432.82 L305.59,432.75 L306.72,432.68 L307.85,432.61 L308.97,432.53 L310.10,432.46 L311.23,432.38 L312.35,432.30 L313.48,432.22 L314.61,432.14 L315.73,432.05 L316.86,431.97 L317.99,431.88 L319.11,431.79 L320.24,431.70 L321.37,431.61 L322.49,431.51 L323.62,431.41 L324.75,431.31 L325.87,431.21 L327.00,431.10" fill="none" stroke="#c3cbf2" stroke-opacity="0.75" stroke-width="3.6" stroke-linejoin="round" stroke-linecap="butt"/>
<path d="M34.70,325.50 L34.97,326.73 L35.24,327.94 L35.51,329.14 L35.78,330.33 L36.05,331.51 L36.32,332.67 L36.58,333.83 L36.85,334.97 L37.12,336.10 L37.39,337.22 L37.66,338.33 L37.93,339.43 L38.20,340.51 L38.48,341.63 L38.76,342.73 L39.03,343.83 L39.31,344.92 L39.59,345.99 L39.87,347.06 L40.14,348.12 L40.42,349.18 L40.70,350.22 L40.98,351.26 L41.26,352.30 L41.53,353.32 L41.81,354.35 L42.09,355.36 L42.37,356.37 L42.64,357.38 L42.92,358.38 L43.20,359.38 L43.51,360.50 L43.82,361.61 L44.14,362.72 L44.45,363.82 L44.76,364.92 L45.07,366.03 L45.38,367.12 L45.69,368.22 L46.01,369.32 L46.32,370.42 L46.63,371.52 L46.94,372.62 L47.25,373.72 L47.56,374.82 L47.88,375.92 L48.19,377.03 L48.50,378.14 L48.81,379.26 L49.12,380.38 L49.44,381.50 L49.75,382.63 L50.06,383.76 L50.37,384.89 L50.68,386.02 L50.99,387.16 L51.31,388.30 L51.62,389.44 L51.93,390.59 L52.24,391.73 L52.55,392.87 L52.86,394.02 L53.18,395.17 L53.49,396.32 L53.80,397.46 L54.10,398.57 L54.40,399.67 L54.70,400.77 L55.00,401.88 L55.30,402.98 L55.60,404.08 L55.90,405.18 L56.20,406.28 L56.50,407.37 L56.80,408.47 L57.10,409.56 L57.40,410.65 L57.70,411.74 L58.00,412.82 L58.30,413.90 L58.60,414.98 L58.90,416.05 L59.20,417.13 L59.50,418.19 L59.80,419.26 L60.10,420.31 L60.40,421.37 L60.70,422.42 L61.00,423.46 L61.30,424.50 L61.60,425.53 L61.90,426.56 L62.20,427.59 L62.50,428.60 L62.80,429.61 L63.10,430.62 L63.40,431.61 L63.77,432.82 L64.13,434.02 L64.50,435.21 L64.87,436.39 L65.23,437.57 L65.60,438.74 L65.97,439.90 L66.33,441.05 L66.70,442.20 L67.04,443.27 L67.39,444.34 L67.73,445.41 L68.08,446.47 L68.42,447.53 L68.77,448.59 L69.11,449.65 L69.46,450.71 L69.80,451.76 L70.14,452.80 L70.47,453.83 L70.81,454.86 L71.15,455.88 L71.49,456.90 L71.83,457.91 L72.16,458.91 L72.50,459.89 L72.83,460.83 L73.16,461.77 L73.49,462.68 L73.81,463.59 L74.14,464.48 L74.47,465.36 L74.80,466.23 L75.27,467.45 L75.74,468.64 L76.21,469.81 L76.69,470.95 L77.16,472.07 L77.63,473.16 L78.10,474.22 L78.57,475.27 L79.04,476.29 L79.51,477.28 L79.99,478.25 L80.46,479.20 L80.93,480.12 L81.40,481.02 L82.01,482.15 L82.62,483.25 L83.23,484.31 L83.84,485.33 L84.45,486.31 L85.05,487.27 L85.66,488.18 L86.27,489.07 L86.88,489.92 L87.49,490.74 L88.10,491.53 L88.92,492.55 L89.75,493.50 L90.58,494.40 L91.40,495.23 L92.22,495.99 L93.05,496.68 L93.88,497.30 L94.70,497.84 L95.76,498.42 L96.82,498.86 L97.88,499.16 L98.94,499.31 L100.00,499.30 L101.04,499.14 L102.08,498.82 L103.12,498.34 L104.16,497.68 L105.20,496.84 L105.96,496.12 L106.71,495.31 L107.47,494.41 L108.23,493.43 L108.99,492.38 L109.74,491.25 L110.50,490.07 L111.03,489.20 L111.56,488.31 L112.09,487.39 L112.62,486.45 L113.15,485.49 L113.68,484.50 L114.21,483.51 L114.74,482.49 L115.27,481.46 L115.80,480.42 L116.28,479.47 L116.76,478.51 L117.25,477.54 L117.73,476.57 L118.21,475.60 L118.69,474.63 L119.17,473.65 L119.65,472.68 L120.14,471.71 L120.62,470.75 L121.10,469.79 L121.76,468.49 L122.42,467.22 L123.08,466.00 L123.74,464.84 L124.40,463.76 L125.06,462.77 L125.72,461.89 L126.38,461.14 L127.04,460.54 L127.70,460.09 L128.70,459.74 L129.70,459.78 L130.70,460.21 L131.70,461.00 L132.33,461.69 L132.97,462.52 L133.60,463.50 L134.23,464.64 L134.87,465.92 L135.50,467.36 L135.86,468.25 L136.23,469.19 L136.59,470.18 L136.95,471.21 L137.32,472.27 L137.68,473.37 L138.05,474.50 L138.41,475.66 L138.77,476.85 L139.14,478.05 L139.50,479.28 L139.80,480.29 L140.10,481.32 L140.40,482.36 L140.70,483.39 L141.00,484.43 L141.30,485.47 L141.60,486.51 L141.90,487.55 L142.20,488.58 L142.50,489.60 L142.80,490.62 L143.16,491.82 L143.52,493.00 L143.88,494.16 L144.24,495.30 L144.60,496.41 L144.96,497.48 L145.32,498.52 L145.68,499.53 L146.04,500.49 L146.40,501.40 L146.81,500.06 L147.23,498.72 L147.64,497.39 L148.05,496.05 L148.46,494.71 L148.88,493.38 L149.29,492.04 L149.70,490.70 L151.53,477.40 L153.35,464.10 L155.18,450.80 L157.00,437.50 L158.82,424.20 L160.65,410.90 L162.47,397.60 L164.30,384.30 L164.75,385.38 L165.20,386.45 L165.65,387.52 L166.10,388.60 L166.55,389.68 L167.00,390.75 L167.45,391.82 L167.90,392.90 L170.01,421.82 L172.12,447.90 L174.24,471.16 L176.35,491.65 L178.46,509.39 L180.58,524.42 L182.69,536.78 L184.80,546.50 L185.14,547.79 L185.47,548.99 L185.81,550.10 L186.15,551.13 L186.49,552.08 L186.82,552.95 L187.16,553.76 L187.50,554.50 L187.96,553.96 L188.42,553.15 L188.88,552.09 L189.34,550.80 L189.80,549.30 L190.03,548.48 L190.25,547.62 L190.48,546.71 L190.71,545.77 L190.94,544.78 L191.16,543.76 L191.39,542.70 L191.62,541.62 L191.85,540.50 L192.07,539.35 L192.30,538.18 L192.53,536.98 L192.75,535.77 L192.98,534.53 L193.21,533.28 L193.44,532.01 L193.66,530.73 L193.89,529.44 L194.12,528.14 L194.35,526.83 L194.57,525.52 L194.80,524.21 L195.01,523.03 L195.21,521.84 L195.42,520.66 L195.62,519.48 L195.83,518.30 L196.03,517.11 L196.24,515.93 L196.44,514.75 L196.65,513.57 L196.86,512.40 L197.06,511.22 L197.27,510.04 L197.47,508.87 L197.68,507.69 L197.88,506.52 L198.09,505.35 L198.29,504.18 L198.50,503.01 L198.71,501.84 L198.91,500.67 L199.12,499.50 L199.32,498.34 L199.53,497.17 L199.73,496.01 L199.94,494.85 L200.14,493.69 L200.35,492.53 L200.56,491.38 L200.76,490.22 L200.97,489.07 L201.17,487.92 L201.38,486.77 L201.58,485.62 L201.79,484.48 L201.99,483.33 L202.20,482.19 L202.41,481.00 L202.63,479.81 L202.84,478.62 L203.06,477.44 L203.27,476.25 L203.49,475.07 L203.70,473.90 L203.92,472.73 L204.13,471.56 L204.35,470.40 L204.56,469.24 L204.78,468.09 L205.00,466.94 L205.21,465.79 L205.43,464.65 L205.64,463.52 L205.85,462.39 L206.07,461.27 L206.28,460.16 L206.50,459.05 L206.74,457.82 L206.98,456.61 L207.22,455.40 L207.46,454.21 L207.70,453.04 L207.94,451.90 L208.18,450.77 L208.42,449.67 L208.66,448.59 L208.90,447.55 L209.14,446.54 L209.38,445.57 L209.62,444.63 L209.86,443.73 L210.10,442.87 L210.55,441.39 L211.00,440.05 L211.45,438.85 L211.90,437.78 L212.35,436.84 L212.80,436.01 L213.25,435.28 L213.70,434.66 L214.60,433.68 L215.50,432.99 L216.40,432.53 L217.30,432.23 L218.32,432.01 L219.33,431.91 L220.35,431.91 L221.37,431.99 L222.38,432.16 L223.40,432.39 L224.45,432.68 L225.50,433.02 L226.55,433.40 L227.60,433.80 L228.65,434.21 L229.70,434.62 L230.75,435.01 L231.80,435.38 L232.88,435.72 L233.96,436.03 L235.04,436.29 L236.12,436.52 L237.20,436.72 L238.28,436.88 L239.36,437.02 L240.44,437.12 L241.52,437.20 L242.60,437.26 L243.73,437.29 L244.85,437.30 L245.98,437.28 L247.11,437.25 L248.23,437.20 L249.36,437.13 L250.49,437.05 L251.61,436.95 L252.74,436.85 L253.87,436.74 L254.99,436.62 L256.12,436.50 L257.25,436.37 L258.37,436.25 L259.50,436.13 L260.62,436.01 L261.74,435.89 L262.86,435.78 L263.98,435.67 L265.10,435.56 L266.22,435.45 L267.34,435.35 L268.46,435.25 L269.58,435.15 L270.70,435.06 L271.82,434.97 L272.94,434.88 L274.06,434.79 L275.18,434.70 L276.30,434.62 L277.43,434.54 L278.55,434.46 L279.68,434.38 L280.81,434.30 L281.93,434.22 L283.06,434.15 L284.19,434.07 L285.31,434.00 L286.44,433.93 L287.57,433.86 L288.69,433.79 L289.82,433.72 L290.95,433.65 L292.07,433.58 L293.20,433.51 L294.33,433.44 L295.45,433.38 L296.58,433.31 L297.71,433.24 L298.83,433.17 L299.96,433.10 L301.09,433.03 L302.21,432.96 L303.34,432.89 L304.47,432.82 L305.59,432.75 L306.72,432.68 L307.85,432.61 L308.97,432.53 L310.10,432.46 L311.23,432.38 L312.35,432.30 L313.48,432.22 L314.61,432.14 L315.73,432.05 L316.86,431.97 L317.99,431.88 L319.11,431.79 L320.24,431.70 L321.37,431.61 L322.49,431.51 L323.62,431.41 L324.75,431.31 L325.87,431.21 L327.00,431.10" fill="none" stroke="#4a5cc4" stroke-width="1.35" stroke-linejoin="round" stroke-linecap="butt"/>
<line x1="77.60" y1="578.50" x2="77.60" y2="580.70" stroke="#777" stroke-width="0.7"/>
<text transform="translate(77.60,588.70) scale(0.780,1)" font-size="7.30" fill="#404040" text-anchor="middle" stroke="#404040" stroke-width="0.15">-1</text>
<line x1="152.70" y1="578.50" x2="152.70" y2="580.70" stroke="#777" stroke-width="0.7"/>
<text transform="translate(152.70,588.70) scale(0.780,1)" font-size="7.30" fill="#404040" text-anchor="middle" stroke="#404040" stroke-width="0.15">0</text>
<line x1="228.30" y1="578.50" x2="228.30" y2="580.70" stroke="#777" stroke-width="0.7"/>
<text transform="translate(228.30,588.70) scale(0.780,1)" font-size="7.30" fill="#404040" text-anchor="middle" stroke="#404040" stroke-width="0.15">1</text>
<line x1="303.90" y1="578.50" x2="303.90" y2="580.70" stroke="#777" stroke-width="0.7"/>
<text transform="translate(303.90,588.70) scale(0.780,1)" font-size="7.30" fill="#404040" text-anchor="middle" stroke="#404040" stroke-width="0.15">2</text>
<line x1="17.90" y1="349.30" x2="20.10" y2="349.30" stroke="#777" stroke-width="0.7"/>
<text transform="translate(17.40,352.43) scale(0.780,1)" font-size="7.30" fill="#404040" text-anchor="end" stroke="#404040" stroke-width="0.15">2</text>
<line x1="17.90" y1="417.50" x2="20.10" y2="417.50" stroke="#777" stroke-width="0.7"/>
<text transform="translate(17.40,420.63) scale(0.780,1)" font-size="7.30" fill="#404040" text-anchor="end" stroke="#404040" stroke-width="0.15">0</text>
<line x1="17.90" y1="485.60" x2="20.10" y2="485.60" stroke="#777" stroke-width="0.7"/>
<text transform="translate(17.40,488.73) scale(0.780,1)" font-size="7.30" fill="#404040" text-anchor="end" stroke="#404040" stroke-width="0.15">-2</text>
<line x1="17.90" y1="553.30" x2="20.10" y2="553.30" stroke="#777" stroke-width="0.7"/>
<text transform="translate(17.40,556.43) scale(0.780,1)" font-size="7.30" fill="#404040" text-anchor="end" stroke="#404040" stroke-width="0.15">-4</text>
<text transform="translate(180.45,598.80) scale(0.810,1)" font-size="8.60" fill="#1a1a1a" text-anchor="middle" stroke="#1a1a1a" stroke-width="0.25">flschool</text>
<text transform="translate(10.60,442.00) rotate(-90) scale(1,1)" font-size="8.60" fill="#1a1a1a" text-anchor="middle" stroke="#1a1a1a" stroke-width="0.25">ATE</text>
<rect x="371.10" y="304.30" width="312.20" height="274.30" fill="#EBEBEB"/>
<line x1="401.30" y1="304.30" x2="401.30" y2="578.60" stroke="#F4F4F4" stroke-width="1.0"/>
<line x1="490.00" y1="304.30" x2="490.00" y2="578.60" stroke="#F4F4F4" stroke-width="1.0"/>
<line x1="578.40" y1="304.30" x2="578.40" y2="578.60" stroke="#F4F4F4" stroke-width="1.0"/>
<line x1="669.40" y1="304.30" x2="669.40" y2="578.60" stroke="#F4F4F4" stroke-width="1.0"/>
<line x1="371.10" y1="331.60" x2="683.30" y2="331.60" stroke="#F4F4F4" stroke-width="1.0"/>
<line x1="371.10" y1="383.40" x2="683.30" y2="383.40" stroke="#F4F4F4" stroke-width="1.0"/>
<line x1="371.10" y1="435.50" x2="683.30" y2="435.50" stroke="#F4F4F4" stroke-width="1.0"/>
<line x1="371.10" y1="487.50" x2="683.30" y2="487.50" stroke="#F4F4F4" stroke-width="1.0"/>
<line x1="371.10" y1="539.40" x2="683.30" y2="539.40" stroke="#F4F4F4" stroke-width="1.0"/>
<line x1="445.60" y1="304.30" x2="445.60" y2="578.60" stroke="#F7F7F7" stroke-width="1.0"/>
<line x1="534.40" y1="304.30" x2="534.40" y2="578.60" stroke="#F7F7F7" stroke-width="1.0"/>
<line x1="623.90" y1="304.30" x2="623.90" y2="578.60" stroke="#F7F7F7" stroke-width="1.0"/>
<line x1="371.10" y1="305.70" x2="683.30" y2="305.70" stroke="#F7F7F7" stroke-width="1.0"/>
<line x1="371.10" y1="357.40" x2="683.30" y2="357.40" stroke="#F7F7F7" stroke-width="1.0"/>
<line x1="371.10" y1="409.50" x2="683.30" y2="409.50" stroke="#F7F7F7" stroke-width="1.0"/>
<line x1="371.10" y1="461.50" x2="683.30" y2="461.50" stroke="#F7F7F7" stroke-width="1.0"/>
<line x1="371.10" y1="513.40" x2="683.30" y2="513.40" stroke="#F7F7F7" stroke-width="1.0"/>
<line x1="371.10" y1="565.60" x2="683.30" y2="565.60" stroke="#F7F7F7" stroke-width="1.0"/>
<path d="M385.20,317.30 L385.54,318.13 L385.89,319.00 L386.23,319.88 L386.58,320.80 L386.92,321.74 L387.27,322.70 L387.61,323.69 L387.96,324.71 L388.30,325.74 L388.64,326.80 L388.99,327.88 L389.33,328.98 L389.68,330.09 L390.02,331.23 L390.37,332.39 L390.71,333.56 L391.06,334.75 L391.40,335.96 L391.74,337.18 L392.09,338.42 L392.43,339.67 L392.78,340.93 L393.12,342.21 L393.47,343.50 L393.81,344.80 L394.16,346.11 L394.50,347.43 L394.79,348.54 L395.08,349.66 L395.37,350.79 L395.66,351.92 L395.94,353.06 L396.23,354.20 L396.52,355.34 L396.81,356.48 L397.10,357.63 L397.39,358.79 L397.68,359.94 L397.97,361.10 L398.26,362.25 L398.54,363.41 L398.83,364.57 L399.12,365.73 L399.41,366.88 L399.70,368.04 L399.99,369.20 L400.28,370.35 L400.57,371.50 L400.86,372.65 L401.14,373.80 L401.43,374.94 L401.72,376.08 L402.01,377.21 L402.30,378.34 L402.59,379.48 L402.88,380.61 L403.18,381.73 L403.47,382.85 L403.76,383.97 L404.05,385.09 L404.34,386.20 L404.63,387.31 L404.93,388.42 L405.22,389.53 L405.51,390.63 L405.80,391.74 L406.11,392.92 L406.43,394.11 L406.74,395.29 L407.05,396.48 L407.36,397.66 L407.68,398.85 L407.99,400.05 L408.30,401.24 L408.61,402.44 L408.93,403.65 L409.24,404.85 L409.55,406.07 L409.86,407.29 L410.18,408.51 L410.49,409.75 L410.80,410.99 L411.07,412.07 L411.34,413.17 L411.62,414.26 L411.89,415.37 L412.16,416.47 L412.43,417.58 L412.71,418.70 L412.98,419.81 L413.25,420.93 L413.52,422.06 L413.79,423.18 L414.07,424.31 L414.34,425.43 L414.61,426.56 L414.88,427.69 L415.16,428.82 L415.43,429.95 L415.70,431.08 L415.97,432.20 L416.25,433.33 L416.52,434.46 L416.79,435.58 L417.06,436.70 L417.34,437.82 L417.61,438.93 L417.88,440.04 L418.15,441.14 L418.43,442.24 L418.70,443.34 L418.97,444.43 L419.25,445.51 L419.52,446.59 L419.79,447.66 L420.06,448.72 L420.34,449.78 L420.61,450.83 L420.88,451.87 L421.15,452.90 L421.43,453.92 L421.70,454.93 L422.05,456.20 L422.39,457.45 L422.74,458.69 L423.08,459.91 L423.43,461.12 L423.77,462.32 L424.12,463.50 L424.46,464.67 L424.81,465.83 L425.15,466.98 L425.50,468.12 L425.84,469.24 L426.19,470.36 L426.53,471.47 L426.88,472.57 L427.22,473.66 L427.56,474.74 L427.91,475.82 L428.25,476.89 L428.60,477.95 L428.99,479.15 L429.38,480.33 L429.77,481.51 L430.16,482.67 L430.54,483.83 L430.93,484.98 L431.32,486.11 L431.71,487.24 L432.10,488.35 L432.49,489.45 L432.88,490.54 L433.27,491.61 L433.66,492.67 L434.04,493.71 L434.43,494.73 L434.82,495.74 L435.21,496.73 L435.60,497.71 L436.03,498.76 L436.46,499.80 L436.89,500.81 L437.32,501.79 L437.75,502.76 L438.18,503.70 L438.61,504.61 L439.04,505.50 L439.47,506.37 L439.90,507.21 L440.56,508.45 L441.22,509.65 L441.88,510.80 L442.54,511.91 L443.20,512.99 L443.86,514.05 L444.52,515.10 L445.18,516.13 L445.84,517.17 L446.50,518.22 L447.11,519.19 L447.72,520.17 L448.32,521.16 L448.93,522.14 L449.54,523.13 L450.15,524.12 L450.75,525.09 L451.36,526.06 L451.97,527.01 L452.58,527.94 L453.18,528.86 L453.79,529.74 L454.40,530.61 L455.17,531.65 L455.93,532.65 L456.70,533.60 L457.47,534.52 L458.23,535.39 L459.00,536.23 L459.77,537.03 L460.53,537.81 L461.30,538.55 L462.07,539.27 L462.83,539.96 L463.60,540.63 L464.63,541.50 L465.67,542.33 L466.70,543.11 L467.73,543.84 L468.77,544.51 L469.80,545.11 L470.83,545.63 L471.87,546.07 L472.90,546.43 L474.03,546.71 L475.16,546.88 L476.29,546.91 L477.41,546.81 L478.54,546.56 L479.67,546.16 L480.80,545.60 L481.61,545.09 L482.42,544.50 L483.23,543.83 L484.04,543.09 L484.85,542.27 L485.65,541.39 L486.46,540.45 L487.27,539.46 L488.08,538.41 L488.89,537.31 L489.70,536.17 L490.28,535.32 L490.87,534.45 L491.45,533.57 L492.03,532.67 L492.62,531.76 L493.20,530.83 L493.78,529.89 L494.37,528.95 L494.95,528.00 L495.53,527.04 L496.12,526.08 L496.70,525.11 L497.33,524.07 L497.96,523.03 L498.59,521.99 L499.22,520.97 L499.85,519.95 L500.48,518.95 L501.12,517.97 L501.75,517.00 L502.38,516.07 L503.01,515.16 L503.64,514.27 L504.27,513.43 L504.90,512.62 L505.84,511.48 L506.77,510.45 L507.71,509.52 L508.65,508.71 L509.59,508.03 L510.52,507.48 L511.46,507.09 L512.40,506.85 L513.49,506.78 L514.57,506.91 L515.66,507.23 L516.74,507.72 L517.83,508.35 L518.91,509.10 L520.00,509.95 L520.88,510.70 L521.75,511.50 L522.62,512.32 L523.50,513.17 L524.38,514.03 L525.25,514.88 L526.12,515.73 L527.00,516.56 L527.91,517.38 L528.82,518.18 L529.73,518.94 L530.64,519.66 L531.56,520.35 L532.47,521.00 L533.38,521.62 L534.29,522.21 L535.20,522.76 L536.23,523.34 L537.25,523.88 L538.27,524.38 L539.30,524.83 L540.33,525.24 L541.35,525.61 L542.38,525.93 L543.40,526.22 L544.57,526.49 L545.73,526.69 L546.90,526.82 L548.07,526.87 L549.23,526.83 L550.40,526.69 L551.42,526.48 L552.45,526.20 L553.48,525.89 L554.50,525.55 L555.52,525.22 L556.55,524.91 L557.58,524.65 L558.60,524.45 L559.67,524.34 L560.73,524.32 L561.80,524.38 L562.87,524.51 L563.93,524.71 L565.00,524.96 L566.10,525.27 L567.20,525.61 L568.30,525.99 L569.40,526.38 L570.50,526.79 L571.60,527.19 L572.70,527.59 L573.80,527.97 L574.90,528.32 L576.00,528.64 L577.20,528.93 L578.39,529.17 L579.59,529.36 L580.78,529.50 L581.98,529.60 L583.17,529.66 L584.37,529.68 L585.56,529.67 L586.75,529.62 L587.95,529.54 L589.14,529.44 L590.34,529.31 L591.53,529.16 L592.73,528.99 L593.92,528.80 L595.12,528.61 L596.31,528.40 L597.51,528.18 L598.70,527.96 L599.90,527.74 L600.99,527.54 L602.08,527.35 L603.17,527.15 L604.26,526.97 L605.35,526.79 L606.45,526.63 L607.54,526.48 L608.63,526.35 L609.72,526.23 L610.81,526.14 L611.90,526.06 L613.09,526.01 L614.28,525.99 L615.47,525.99 L616.66,526.01 L617.85,526.04 L619.05,526.10 L620.24,526.16 L621.43,526.24 L622.62,526.33 L623.81,526.41 L625.00,526.51 L626.12,526.59 L627.24,526.67 L628.36,526.75 L629.49,526.82 L630.61,526.88 L631.73,526.93 L632.85,526.96 L633.97,526.98 L635.09,526.98 L636.21,526.95 L637.34,526.91 L638.46,526.84 L639.58,526.74 L640.70,526.61 L641.80,526.45 L642.90,526.26 L644.00,526.04 L645.10,525.79 L646.20,525.52 L647.30,525.22 L648.40,524.90 L649.50,524.55 L650.60,524.18 L651.70,523.79 L652.80,523.37 L653.90,522.94 L655.00,522.49 L656.08,522.03 L657.15,521.56 L658.23,521.07 L659.31,520.57 L660.38,520.05 L661.46,519.53 L662.54,518.99 L663.62,518.44 L664.69,517.89 L665.77,517.32 L666.85,516.75 L667.92,516.18 L669.00,515.60 L669.00,565.00 L668.00,564.54 L667.00,564.03 L666.00,563.49 L665.00,562.91 L664.00,562.30 L663.00,561.66 L662.00,561.00 L661.00,560.31 L660.00,559.60 L659.00,558.87 L658.00,558.13 L657.00,557.38 L656.00,556.63 L655.00,555.86 L654.05,555.14 L653.09,554.41 L652.14,553.69 L651.19,552.98 L650.23,552.27 L649.28,551.58 L648.33,550.91 L647.37,550.25 L646.42,549.61 L645.47,549.00 L644.51,548.41 L643.56,547.85 L642.61,547.32 L641.65,546.83 L640.70,546.37 L639.58,545.88 L638.46,545.44 L637.34,545.05 L636.22,544.71 L635.10,544.40 L633.98,544.13 L632.86,543.89 L631.74,543.67 L630.62,543.48 L629.50,543.31 L628.38,543.16 L627.26,543.01 L626.14,542.88 L625.02,542.75 L623.90,542.62 L622.76,542.48 L621.61,542.34 L620.47,542.20 L619.33,542.06 L618.19,541.93 L617.04,541.80 L615.90,541.68 L614.76,541.56 L613.61,541.46 L612.47,541.36 L611.33,541.29 L610.19,541.22 L609.04,541.18 L607.90,541.15 L606.76,541.14 L605.61,541.16 L604.47,541.20 L603.33,541.26 L602.19,541.36 L601.04,541.48 L599.90,541.63 L598.70,541.83 L597.51,542.05 L596.31,542.29 L595.12,542.55 L593.92,542.82 L592.73,543.08 L591.53,543.33 L590.34,543.56 L589.14,543.78 L587.95,543.95 L586.75,544.09 L585.56,544.19 L584.37,544.23 L583.17,544.20 L581.98,544.11 L580.78,543.94 L579.59,543.68 L578.39,543.33 L577.20,542.88 L576.00,542.33 L575.00,541.78 L574.00,541.17 L573.00,540.51 L572.00,539.83 L571.00,539.14 L570.00,538.46 L569.00,537.81 L568.00,537.21 L567.00,536.67 L566.00,536.22 L565.00,535.87 L563.93,535.62 L562.87,535.49 L561.80,535.47 L560.73,535.55 L559.67,535.72 L558.60,535.95 L557.58,536.23 L556.55,536.56 L555.52,536.91 L554.50,537.28 L553.48,537.66 L552.45,538.04 L551.42,538.40 L550.40,538.73 L549.23,539.06 L548.07,539.34 L546.90,539.55 L545.73,539.69 L544.57,539.76 L543.40,539.74 L542.40,539.65 L541.40,539.49 L540.40,539.26 L539.40,538.95 L538.40,538.55 L537.40,538.07 L536.40,537.50 L535.52,536.92 L534.65,536.28 L533.77,535.57 L532.90,534.82 L532.02,534.03 L531.15,533.20 L530.27,532.35 L529.40,531.47 L528.58,530.64 L527.76,529.81 L526.94,528.98 L526.12,528.16 L525.30,527.36 L524.48,526.57 L523.66,525.82 L522.84,525.10 L522.02,524.42 L521.20,523.79 L520.20,523.09 L519.20,522.48 L518.20,521.97 L517.20,521.56 L516.20,521.28 L515.20,521.12 L514.20,521.09 L513.23,521.20 L512.27,521.46 L511.30,521.87 L510.33,522.43 L509.37,523.17 L508.40,524.08 L507.76,524.78 L507.13,525.55 L506.49,526.39 L505.85,527.29 L505.22,528.25 L504.58,529.25 L503.95,530.30 L503.31,531.39 L502.67,532.51 L502.04,533.65 L501.40,534.81 L500.86,535.80 L500.33,536.79 L499.79,537.79 L499.25,538.78 L498.72,539.77 L498.18,540.75 L497.65,541.71 L497.11,542.66 L496.57,543.59 L496.04,544.49 L495.50,545.37 L494.77,546.51 L494.05,547.58 L493.32,548.61 L492.60,549.58 L491.88,550.49 L491.15,551.36 L490.43,552.17 L489.70,552.94 L488.76,553.86 L487.82,554.70 L486.88,555.47 L485.94,556.16 L485.00,556.78 L483.90,557.42 L482.80,557.97 L481.70,558.43 L480.60,558.81 L479.50,559.12 L478.34,559.36 L477.18,559.53 L476.01,559.62 L474.85,559.64 L473.69,559.60 L472.52,559.51 L471.36,559.36 L470.20,559.16 L469.07,558.92 L467.94,558.63 L466.81,558.30 L465.69,557.92 L464.56,557.47 L463.43,556.97 L462.30,556.40 L461.46,555.94 L460.63,555.44 L459.79,554.89 L458.95,554.30 L458.12,553.67 L457.28,553.00 L456.45,552.27 L455.61,551.50 L454.77,550.68 L453.94,549.80 L453.10,548.88 L452.38,548.04 L451.67,547.17 L450.95,546.25 L450.24,545.31 L449.52,544.33 L448.81,543.31 L448.09,542.26 L447.38,541.19 L446.66,540.09 L445.95,538.95 L445.23,537.80 L444.52,536.62 L443.80,535.42 L443.27,534.52 L442.75,533.61 L442.22,532.69 L441.69,531.76 L441.17,530.83 L440.64,529.88 L440.11,528.93 L439.59,527.97 L439.06,527.00 L438.53,526.03 L438.01,525.05 L437.48,524.07 L436.95,523.08 L436.43,522.09 L435.90,521.09 L435.37,520.09 L434.83,519.07 L434.30,518.06 L433.77,517.05 L433.23,516.03 L432.70,515.01 L432.17,513.99 L431.63,512.96 L431.10,511.94 L430.57,510.91 L430.03,509.88 L429.50,508.84 L428.97,507.81 L428.43,506.77 L427.90,505.74 L427.35,504.67 L426.81,503.60 L426.26,502.54 L425.71,501.46 L425.17,500.39 L424.62,499.32 L424.07,498.24 L423.53,497.17 L422.98,496.09 L422.43,495.01 L421.89,493.93 L421.34,492.85 L420.79,491.76 L420.25,490.68 L419.70,489.59 L419.20,488.60 L418.70,487.61 L418.20,486.61 L417.70,485.61 L417.20,484.62 L416.70,483.62 L416.20,482.62 L415.70,481.62 L415.20,480.62 L414.70,479.62 L414.20,478.62 L413.70,477.62 L413.21,476.63 L412.72,475.65 L412.23,474.66 L411.73,473.68 L411.24,472.69 L410.75,471.71 L410.26,470.72 L409.77,469.73 L409.27,468.74 L408.78,467.76 L408.29,466.77 L407.80,465.78 L407.30,464.78 L406.80,463.78 L406.30,462.77 L405.80,461.77 L405.30,460.76 L404.80,459.76 L404.30,458.76 L403.80,457.75 L403.30,456.75 L402.80,455.74 L402.30,454.74 L401.80,453.73 L401.31,452.75 L400.82,451.76 L400.32,450.77 L399.83,449.78 L399.34,448.80 L398.85,447.81 L398.36,446.82 L397.87,445.83 L397.38,444.84 L396.88,443.85 L396.39,442.86 L395.90,441.87 L395.40,440.87 L394.90,439.86 L394.40,438.85 L393.90,437.83 L393.40,436.81 L392.90,435.78 L392.40,434.75 L391.90,433.70 L391.40,432.64 L390.90,431.57 L390.40,430.48 L389.90,429.38 L389.47,428.43 L389.05,427.46 L388.62,426.48 L388.19,425.48 L387.76,424.47 L387.34,423.44 L386.91,422.39 L386.48,421.32 L386.05,420.24 L385.63,419.13 L385.20,418.00 Z" fill="#999999" fill-opacity="0.4"/>
<path d="M385.20,368.00 L385.54,369.12 L385.89,370.24 L386.23,371.37 L386.57,372.50 L386.91,373.63 L387.26,374.77 L387.60,375.90 L387.94,377.04 L388.29,378.18 L388.63,379.32 L388.97,380.46 L389.31,381.60 L389.66,382.73 L390.00,383.86 L390.35,385.01 L390.70,386.15 L391.05,387.29 L391.40,388.43 L391.75,389.55 L392.10,390.67 L392.45,391.78 L392.80,392.89 L393.15,393.98 L393.50,395.06 L393.85,396.13 L394.20,397.18 L394.55,398.23 L394.90,399.26 L395.29,400.38 L395.67,401.48 L396.06,402.57 L396.44,403.66 L396.83,404.73 L397.21,405.79 L397.60,406.85 L397.99,407.91 L398.37,408.96 L398.76,410.02 L399.14,411.08 L399.53,412.15 L399.91,413.23 L400.30,414.31 L400.69,415.43 L401.09,416.56 L401.48,417.70 L401.87,418.85 L402.26,420.01 L402.66,421.18 L403.05,422.35 L403.44,423.54 L403.84,424.73 L404.23,425.93 L404.62,427.13 L405.01,428.34 L405.41,429.55 L405.80,430.77 L406.16,431.88 L406.52,433.00 L406.88,434.12 L407.24,435.24 L407.60,436.36 L407.96,437.48 L408.32,438.60 L408.68,439.71 L409.04,440.83 L409.40,441.94 L409.76,443.05 L410.12,444.15 L410.48,445.25 L410.84,446.35 L411.20,447.44 L411.57,448.54 L411.93,449.64 L412.30,450.74 L412.67,451.82 L413.03,452.90 L413.40,453.98 L413.77,455.05 L414.13,456.11 L414.50,457.17 L414.87,458.22 L415.23,459.26 L415.60,460.30 L415.97,461.34 L416.33,462.36 L416.70,463.39 L417.09,464.48 L417.49,465.56 L417.88,466.64 L418.27,467.71 L418.66,468.77 L419.06,469.83 L419.45,470.88 L419.84,471.92 L420.24,472.96 L420.63,473.99 L421.02,475.02 L421.41,476.04 L421.81,477.05 L422.20,478.06 L422.62,479.14 L423.05,480.21 L423.47,481.28 L423.89,482.34 L424.32,483.39 L424.74,484.43 L425.16,485.47 L425.58,486.50 L426.01,487.53 L426.43,488.55 L426.85,489.56 L427.28,490.56 L427.70,491.56 L428.16,492.64 L428.62,493.71 L429.07,494.77 L429.53,495.82 L429.99,496.87 L430.45,497.91 L430.91,498.94 L431.37,499.96 L431.82,500.98 L432.28,501.99 L432.74,503.00 L433.20,504.00 L433.70,505.08 L434.20,506.15 L434.70,507.21 L435.20,508.27 L435.70,509.32 L436.20,510.35 L436.70,511.38 L437.20,512.40 L437.70,513.42 L438.20,514.42 L438.70,515.41 L439.20,516.39 L439.75,517.46 L440.30,518.52 L440.85,519.57 L441.40,520.60 L441.95,521.62 L442.50,522.63 L443.05,523.63 L443.60,524.61 L444.15,525.58 L444.70,526.53 L445.25,527.48 L445.80,528.40 L446.41,529.42 L447.02,530.41 L447.62,531.38 L448.23,532.34 L448.84,533.28 L449.45,534.20 L450.06,535.10 L450.67,535.99 L451.28,536.85 L451.88,537.70 L452.49,538.52 L453.10,539.33 L453.83,540.27 L454.57,541.18 L455.30,542.07 L456.03,542.92 L456.77,543.74 L457.50,544.53 L458.23,545.29 L458.97,546.01 L459.70,546.71 L460.58,547.49 L461.46,548.23 L462.33,548.92 L463.21,549.55 L464.09,550.14 L464.97,550.67 L465.84,551.15 L466.72,551.58 L467.60,551.96 L468.73,552.36 L469.86,552.67 L470.99,552.90 L472.11,553.04 L473.24,553.10 L474.37,553.08 L475.50,552.99 L476.46,552.85 L477.41,552.65 L478.37,552.40 L479.33,552.11 L480.29,551.76 L481.24,551.36 L482.20,550.92 L483.14,550.44 L484.07,549.91 L485.01,549.33 L485.95,548.67 L486.89,547.95 L487.82,547.15 L488.76,546.27 L489.70,545.30 L490.38,544.52 L491.07,543.70 L491.75,542.81 L492.43,541.87 L493.12,540.87 L493.80,539.79 L494.30,538.97 L494.80,538.11 L495.30,537.22 L495.80,536.31 L496.30,535.38 L496.80,534.44 L497.30,533.48 L497.80,532.51 L498.39,531.37 L498.98,530.23 L499.56,529.09 L500.15,527.97 L500.74,526.87 L501.32,525.79 L501.91,524.75 L502.50,523.75 L503.16,522.68 L503.82,521.66 L504.49,520.71 L505.15,519.81 L505.81,518.99 L506.48,518.23 L507.14,517.54 L507.80,516.91 L508.84,516.08 L509.88,515.41 L510.92,514.91 L511.96,514.55 L513.00,514.35 L514.17,514.28 L515.35,514.39 L516.53,514.65 L517.70,515.05 L518.64,515.48 L519.58,515.98 L520.52,516.56 L521.46,517.21 L522.40,517.91 L523.23,518.57 L524.06,519.26 L524.89,519.99 L525.71,520.73 L526.54,521.50 L527.37,522.28 L528.20,523.07 L529.04,523.88 L529.89,524.69 L530.73,525.49 L531.57,526.28 L532.41,527.05 L533.26,527.80 L534.10,528.52 L535.10,529.33 L536.10,530.08 L537.10,530.77 L538.10,531.39 L539.10,531.92 L540.10,532.36 L541.10,532.71 L542.27,532.97 L543.43,533.10 L544.60,533.12 L545.77,533.04 L546.93,532.88 L548.10,532.65 L549.26,532.37 L550.42,532.06 L551.58,531.73 L552.74,531.41 L553.90,531.10 L554.84,530.87 L555.78,530.68 L556.72,530.52 L557.66,530.41 L558.60,530.36 L559.67,530.37 L560.73,530.46 L561.80,530.61 L562.87,530.82 L563.93,531.08 L565.00,531.38 L566.03,531.69 L567.07,532.02 L568.10,532.36 L569.13,532.70 L570.17,533.04 L571.20,533.35 L572.30,533.67 L573.40,533.96 L574.50,534.22 L575.60,534.46 L576.70,534.68 L577.80,534.87 L578.90,535.05 L580.00,535.20 L581.10,535.33 L582.20,535.45 L583.30,535.54 L584.40,535.62 L585.50,535.69 L586.65,535.74 L587.80,535.78 L588.94,535.80 L590.09,535.81 L591.24,535.81 L592.39,535.80 L593.53,535.78 L594.68,535.75 L595.83,535.71 L596.98,535.67 L598.13,535.62 L599.27,535.57 L600.42,535.51 L601.57,535.45 L602.72,535.39 L603.87,535.33 L605.01,535.28 L606.16,535.22 L607.31,535.17 L608.46,535.12 L609.60,535.08 L610.75,535.05 L611.90,535.02 L613.04,535.00 L614.19,534.99 L615.33,534.99 L616.47,535.00 L617.61,535.01 L618.76,535.03 L619.90,535.06 L621.04,535.10 L622.19,535.14 L623.33,535.19 L624.47,535.25 L625.61,535.31 L626.76,535.38 L627.90,535.46 L629.04,535.54 L630.19,535.63 L631.33,535.72 L632.47,535.81 L633.61,535.92 L634.76,536.02 L635.90,536.13 L637.08,536.25 L638.26,536.38 L639.45,536.50 L640.63,536.63 L641.81,536.77 L642.99,536.91 L644.17,537.05 L645.36,537.19 L646.54,537.34 L647.72,537.49 L648.90,537.64 L650.09,537.79 L651.27,537.95 L652.45,538.10 L653.63,538.26 L654.81,538.42 L656.00,538.58 L657.18,538.74 L658.36,538.90 L659.54,539.05 L660.73,539.21 L661.91,539.37 L663.09,539.53 L664.27,539.69 L665.45,539.84 L666.64,540.00 L667.82,540.15 L669.00,540.30" fill="none" stroke="#c3cbf2" stroke-opacity="0.75" stroke-width="3.6" stroke-linejoin="round" stroke-linecap="butt"/>
<path d="M385.20,368.00 L385.54,369.12 L385.89,370.24 L386.23,371.37 L386.57,372.50 L386.91,373.63 L387.26,374.77 L387.60,375.90 L387.94,377.04 L388.29,378.18 L388.63,379.32 L388.97,380.46 L389.31,381.60 L389.66,382.73 L390.00,383.86 L390.35,385.01 L390.70,386.15 L391.05,387.29 L391.40,388.43 L391.75,389.55 L392.10,390.67 L392.45,391.78 L392.80,392.89 L393.15,393.98 L393.50,395.06 L393.85,396.13 L394.20,397.18 L394.55,398.23 L394.90,399.26 L395.29,400.38 L395.67,401.48 L396.06,402.57 L396.44,403.66 L396.83,404.73 L397.21,405.79 L397.60,406.85 L397.99,407.91 L398.37,408.96 L398.76,410.02 L399.14,411.08 L399.53,412.15 L399.91,413.23 L400.30,414.31 L400.69,415.43 L401.09,416.56 L401.48,417.70 L401.87,418.85 L402.26,420.01 L402.66,421.18 L403.05,422.35 L403.44,423.54 L403.84,424.73 L404.23,425.93 L404.62,427.13 L405.01,428.34 L405.41,429.55 L405.80,430.77 L406.16,431.88 L406.52,433.00 L406.88,434.12 L407.24,435.24 L407.60,436.36 L407.96,437.48 L408.32,438.60 L408.68,439.71 L409.04,440.83 L409.40,441.94 L409.76,443.05 L410.12,444.15 L410.48,445.25 L410.84,446.35 L411.20,447.44 L411.57,448.54 L411.93,449.64 L412.30,450.74 L412.67,451.82 L413.03,452.90 L413.40,453.98 L413.77,455.05 L414.13,456.11 L414.50,457.17 L414.87,458.22 L415.23,459.26 L415.60,460.30 L415.97,461.34 L416.33,462.36 L416.70,463.39 L417.09,464.48 L417.49,465.56 L417.88,466.64 L418.27,467.71 L418.66,468.77 L419.06,469.83 L419.45,470.88 L419.84,471.92 L420.24,472.96 L420.63,473.99 L421.02,475.02 L421.41,476.04 L421.81,477.05 L422.20,478.06 L422.62,479.14 L423.05,480.21 L423.47,481.28 L423.89,482.34 L424.32,483.39 L424.74,484.43 L425.16,485.47 L425.58,486.50 L426.01,487.53 L426.43,488.55 L426.85,489.56 L427.28,490.56 L427.70,491.56 L428.16,492.64 L428.62,493.71 L429.07,494.77 L429.53,495.82 L429.99,496.87 L430.45,497.91 L430.91,498.94 L431.37,499.96 L431.82,500.98 L432.28,501.99 L432.74,503.00 L433.20,504.00 L433.70,505.08 L434.20,506.15 L434.70,507.21 L435.20,508.27 L435.70,509.32 L436.20,510.35 L436.70,511.38 L437.20,512.40 L437.70,513.42 L438.20,514.42 L438.70,515.41 L439.20,516.39 L439.75,517.46 L440.30,518.52 L440.85,519.57 L441.40,520.60 L441.95,521.62 L442.50,522.63 L443.05,523.63 L443.60,524.61 L444.15,525.58 L444.70,526.53 L445.25,527.48 L445.80,528.40 L446.41,529.42 L447.02,530.41 L447.62,531.38 L448.23,532.34 L448.84,533.28 L449.45,534.20 L450.06,535.10 L450.67,535.99 L451.28,536.85 L451.88,537.70 L452.49,538.52 L453.10,539.33 L453.83,540.27 L454.57,541.18 L455.30,542.07 L456.03,542.92 L456.77,543.74 L457.50,544.53 L458.23,545.29 L458.97,546.01 L459.70,546.71 L460.58,547.49 L461.46,548.23 L462.33,548.92 L463.21,549.55 L464.09,550.14 L464.97,550.67 L465.84,551.15 L466.72,551.58 L467.60,551.96 L468.73,552.36 L469.86,552.67 L470.99,552.90 L472.11,553.04 L473.24,553.10 L474.37,553.08 L475.50,552.99 L476.46,552.85 L477.41,552.65 L478.37,552.40 L479.33,552.11 L480.29,551.76 L481.24,551.36 L482.20,550.92 L483.14,550.44 L484.07,549.91 L485.01,549.33 L485.95,548.67 L486.89,547.95 L487.82,547.15 L488.76,546.27 L489.70,545.30 L490.38,544.52 L491.07,543.70 L491.75,542.81 L492.43,541.87 L493.12,540.87 L493.80,539.79 L494.30,538.97 L494.80,538.11 L495.30,537.22 L495.80,536.31 L496.30,535.38 L496.80,534.44 L497.30,533.48 L497.80,532.51 L498.39,531.37 L498.98,530.23 L499.56,529.09 L500.15,527.97 L500.74,526.87 L501.32,525.79 L501.91,524.75 L502.50,523.75 L503.16,522.68 L503.82,521.66 L504.49,520.71 L505.15,519.81 L505.81,518.99 L506.48,518.23 L507.14,517.54 L507.80,516.91 L508.84,516.08 L509.88,515.41 L510.92,514.91 L511.96,514.55 L513.00,514.35 L514.17,514.28 L515.35,514.39 L516.53,514.65 L517.70,515.05 L518.64,515.48 L519.58,515.98 L520.52,516.56 L521.46,517.21 L522.40,517.91 L523.23,518.57 L524.06,519.26 L524.89,519.99 L525.71,520.73 L526.54,521.50 L527.37,522.28 L528.20,523.07 L529.04,523.88 L529.89,524.69 L530.73,525.49 L531.57,526.28 L532.41,527.05 L533.26,527.80 L534.10,528.52 L535.10,529.33 L536.10,530.08 L537.10,530.77 L538.10,531.39 L539.10,531.92 L540.10,532.36 L541.10,532.71 L542.27,532.97 L543.43,533.10 L544.60,533.12 L545.77,533.04 L546.93,532.88 L548.10,532.65 L549.26,532.37 L550.42,532.06 L551.58,531.73 L552.74,531.41 L553.90,531.10 L554.84,530.87 L555.78,530.68 L556.72,530.52 L557.66,530.41 L558.60,530.36 L559.67,530.37 L560.73,530.46 L561.80,530.61 L562.87,530.82 L563.93,531.08 L565.00,531.38 L566.03,531.69 L567.07,532.02 L568.10,532.36 L569.13,532.70 L570.17,533.04 L571.20,533.35 L572.30,533.67 L573.40,533.96 L574.50,534.22 L575.60,534.46 L576.70,534.68 L577.80,534.87 L578.90,535.05 L580.00,535.20 L581.10,535.33 L582.20,535.45 L583.30,535.54 L584.40,535.62 L585.50,535.69 L586.65,535.74 L587.80,535.78 L588.94,535.80 L590.09,535.81 L591.24,535.81 L592.39,535.80 L593.53,535.78 L594.68,535.75 L595.83,535.71 L596.98,535.67 L598.13,535.62 L599.27,535.57 L600.42,535.51 L601.57,535.45 L602.72,535.39 L603.87,535.33 L605.01,535.28 L606.16,535.22 L607.31,535.17 L608.46,535.12 L609.60,535.08 L610.75,535.05 L611.90,535.02 L613.04,535.00 L614.19,534.99 L615.33,534.99 L616.47,535.00 L617.61,535.01 L618.76,535.03 L619.90,535.06 L621.04,535.10 L622.19,535.14 L623.33,535.19 L624.47,535.25 L625.61,535.31 L626.76,535.38 L627.90,535.46 L629.04,535.54 L630.19,535.63 L631.33,535.72 L632.47,535.81 L633.61,535.92 L634.76,536.02 L635.90,536.13 L637.08,536.25 L638.26,536.38 L639.45,536.50 L640.63,536.63 L641.81,536.77 L642.99,536.91 L644.17,537.05 L645.36,537.19 L646.54,537.34 L647.72,537.49 L648.90,537.64 L650.09,537.79 L651.27,537.95 L652.45,538.10 L653.63,538.26 L654.81,538.42 L656.00,538.58 L657.18,538.74 L658.36,538.90 L659.54,539.05 L660.73,539.21 L661.91,539.37 L663.09,539.53 L664.27,539.69 L665.45,539.84 L666.64,540.00 L667.82,540.15 L669.00,540.30" fill="none" stroke="#4a5cc4" stroke-width="1.35" stroke-linejoin="round" stroke-linecap="butt"/>
<line x1="445.60" y1="578.60" x2="445.60" y2="580.80" stroke="#777" stroke-width="0.7"/>
<text transform="translate(445.60,588.70) scale(0.780,1)" font-size="7.30" fill="#404040" text-anchor="middle" stroke="#404040" stroke-width="0.15">-1</text>
<line x1="534.40" y1="578.60" x2="534.40" y2="580.80" stroke="#777" stroke-width="0.7"/>
<text transform="translate(534.40,588.70) scale(0.780,1)" font-size="7.30" fill="#404040" text-anchor="middle" stroke="#404040" stroke-width="0.15">0</text>
<line x1="623.90" y1="578.60" x2="623.90" y2="580.80" stroke="#777" stroke-width="0.7"/>
<text transform="translate(623.90,588.70) scale(0.780,1)" font-size="7.30" fill="#404040" text-anchor="middle" stroke="#404040" stroke-width="0.15">1</text>
<line x1="368.90" y1="305.70" x2="371.10" y2="305.70" stroke="#777" stroke-width="0.7"/>
<text transform="translate(368.50,308.83) scale(0.780,1)" font-size="7.30" fill="#404040" text-anchor="end" stroke="#404040" stroke-width="0.15">10.0</text>
<line x1="368.90" y1="357.40" x2="371.10" y2="357.40" stroke="#777" stroke-width="0.7"/>
<text transform="translate(368.50,360.53) scale(0.780,1)" font-size="7.30" fill="#404040" text-anchor="end" stroke="#404040" stroke-width="0.15">7.5</text>
<line x1="368.90" y1="409.50" x2="371.10" y2="409.50" stroke="#777" stroke-width="0.7"/>
<text transform="translate(368.50,412.63) scale(0.780,1)" font-size="7.30" fill="#404040" text-anchor="end" stroke="#404040" stroke-width="0.15">5.0</text>
<line x1="368.90" y1="461.50" x2="371.10" y2="461.50" stroke="#777" stroke-width="0.7"/>
<text transform="translate(368.50,464.63) scale(0.780,1)" font-size="7.30" fill="#404040" text-anchor="end" stroke="#404040" stroke-width="0.15">2.5</text>
<line x1="368.90" y1="513.40" x2="371.10" y2="513.40" stroke="#777" stroke-width="0.7"/>
<text transform="translate(368.50,516.53) scale(0.780,1)" font-size="7.30" fill="#404040" text-anchor="end" stroke="#404040" stroke-width="0.15">0.0</text>
<line x1="368.90" y1="565.60" x2="371.10" y2="565.60" stroke="#777" stroke-width="0.7"/>
<text transform="translate(368.50,568.73) scale(0.780,1)" font-size="7.30" fill="#404040" text-anchor="end" stroke="#404040" stroke-width="0.15">-2.5</text>
<text transform="translate(527.20,599.20) scale(0.810,1)" font-size="8.60" fill="#1a1a1a" text-anchor="middle" stroke="#1a1a1a" stroke-width="0.25">mean_ESCS</text>
<text transform="translate(355.90,442.05) rotate(-90) scale(1,1)" font-size="8.60" fill="#1a1a1a" text-anchor="middle" stroke="#1a1a1a" stroke-width="0.25">ATE</text>
</svg>
</body></html>
